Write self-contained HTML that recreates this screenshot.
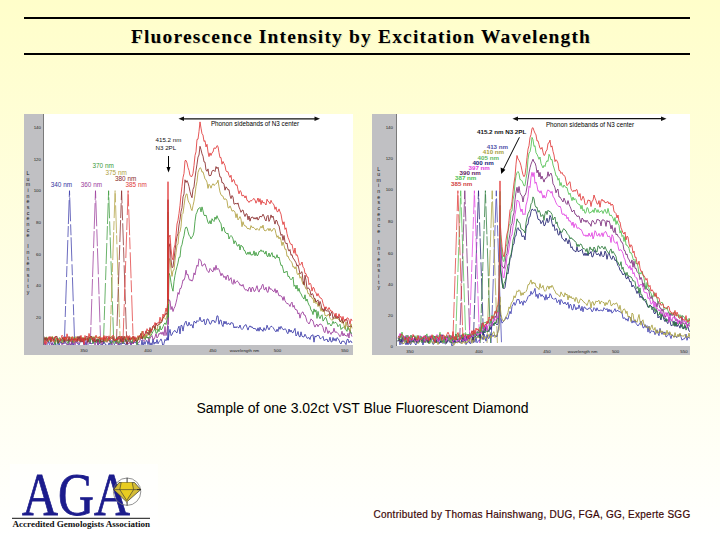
<!DOCTYPE html><html><head><meta charset="utf-8"><style>
html,body{margin:0;padding:0}
body{width:720px;height:540px;position:relative;overflow:hidden;background:linear-gradient(to bottom,#fffeca 0%,#ffffff 100%);font-family:"Liberation Sans",sans-serif}
.abs{position:absolute}
</style></head><body>
<div class="abs" style="left:24px;top:17px;width:666px;height:2px;background:#000"></div>
<div class="abs" style="left:24px;top:53px;width:666px;height:2px;background:#000"></div>
<div class="abs" style="left:0;top:26px;width:720px;text-align:center;font-family:'Liberation Serif',serif;font-weight:bold;font-size:18px;line-height:20px;color:#000;letter-spacing:1.1px;text-shadow:1px 1px 0 rgba(0,0,0,0.12)"><span style="display:inline-block;transform:scaleX(1.08);transform-origin:50% 50%;position:relative;left:1px;top:1px">Fluorescence Intensity by Excitation Wavelength</span></div>
<svg class="abs" style="left:24px;top:114px" width="329" height="241" viewBox="24 114 329 241">
<rect x="24" y="114" width="329" height="241" fill="#c0c0c3"/>
<rect x="44" y="114" width="309" height="231" fill="#ffffff"/>
<line x1="43.5" y1="114" x2="43.5" y2="345" stroke="#7a7a7a" stroke-width="1"/>
<clipPath id="c24"><rect x="44" y="114" width="309" height="231"/></clipPath><g clip-path="url(#c24)">
<path d="M64.3,344.0 L69.5,190.7 L74.7,344.0" fill="none" stroke="#3a3aa8" stroke-width="1" stroke-dasharray="24,3,11,2" opacity="0.75"/>
<path d="M90.3,344.0 L95.5,190.7 L100.7,344.0" fill="none" stroke="#9a3a9a" stroke-width="1" stroke-dasharray="17,2,26,3" opacity="0.75"/>
<path d="M103.4,344.0 L108.6,190.7 L113.8,344.0" fill="none" stroke="#3a9a3a" stroke-width="1" stroke-dasharray="21,3,14,2" opacity="0.75"/>
<path d="M109.9,344.0 L115.1,190.7 L120.3,344.0" fill="none" stroke="#b0a040" stroke-width="1" stroke-dasharray="28,2,9,3" opacity="0.75"/>
<path d="M116.4,344.0 L121.6,190.7 L126.8,344.0" fill="none" stroke="#8a2a2a" stroke-width="1" stroke-dasharray="15,3,22,2" opacity="0.75"/>
<path d="M122.9,344.0 L128.1,190.7 L133.3,344.0" fill="none" stroke="#e03a3a" stroke-width="1" stroke-dasharray="26,2,12,3" opacity="0.75"/>
<polyline points="44.0,343.9 45.0,343.9 46.0,345.5 47.0,344.4 48.0,343.5 49.0,341.7 50.0,349.5 51.0,345.8 52.0,342.6 53.0,344.6 54.0,344.7 55.0,340.9 56.0,346.7 57.0,344.8 58.0,340.0 59.0,346.4 60.0,342.5 61.0,342.1 62.0,342.6 63.0,344.0 64.0,341.1 65.0,342.3 66.0,343.4 67.0,344.5 68.0,345.8 69.0,343.8 70.0,344.1 71.0,345.3 72.0,341.1 73.0,346.4 74.0,342.8 75.0,341.9 76.0,341.2 77.0,343.1 78.0,344.4 79.0,345.3 80.0,342.4 81.0,340.0 82.0,342.2 83.0,340.5 84.0,344.0 85.0,345.9 86.0,341.6 87.0,346.2 88.0,344.6 89.0,343.3 90.0,342.7 91.0,344.0 92.0,343.3 93.0,343.0 94.0,342.3 95.0,340.0 96.0,340.3 97.0,340.7 98.0,346.7 99.0,343.1 100.0,343.4 101.0,344.9 102.0,344.7 103.0,344.4 104.0,341.0 105.0,344.2 106.0,344.4 107.0,345.6 108.0,345.5 109.0,342.9 110.0,344.9 111.0,340.3 112.0,345.2 113.0,346.7 114.0,344.5 115.0,344.0 116.0,341.3 117.0,340.5 118.0,341.4 119.0,346.8 120.0,343.1 121.0,344.7 122.0,342.9 123.0,343.8 124.0,342.5 125.0,344.3 126.0,344.1 127.0,345.9 128.0,340.5 129.0,338.4 130.0,341.7 131.0,345.1 132.0,341.8 133.0,343.3 134.0,341.7 135.0,342.2 136.0,343.1 137.0,343.0 138.0,344.5 139.0,345.2 140.0,345.1 141.0,346.4 142.0,340.0 143.0,347.0 144.0,341.7 145.0,344.4 146.0,341.2 147.0,340.4 148.0,344.6 149.0,340.6 150.0,345.5 151.0,342.8 152.0,345.4 153.0,338.8 154.0,344.3 155.0,342.0 156.0,343.5 157.0,339.5 158.0,343.8 159.0,341.8 160.0,340.6 161.0,338.9 162.0,341.7 163.0,346.9 164.0,343.5 165.0,339.4 166.0,340.8 167.0,337.6 167.8,340.2 168.0,325.9 168.2,340.2 169.0,333.7 170.0,329.4 171.0,335.6 172.0,334.8 173.0,332.2 174.0,331.1 175.0,330.4 176.0,332.2 177.0,332.9 178.0,328.5 179.0,326.2 180.0,333.9 181.0,325.3 182.0,325.6 183.0,331.1 184.0,325.4 185.0,322.7 186.0,321.1 187.0,325.4 188.0,326.0 189.0,322.2 190.0,325.3 191.0,325.2 192.0,324.6 193.0,328.1 194.0,321.3 195.0,321.8 196.0,323.2 197.0,320.5 198.0,321.6 199.0,320.5 200.0,317.2 201.0,321.2 202.0,321.3 203.0,321.3 204.0,319.2 205.0,324.7 206.0,324.2 207.0,319.1 208.0,318.9 209.0,321.3 210.0,324.2 211.0,323.7 212.0,320.4 213.0,321.0 214.0,320.5 215.0,322.8 216.0,321.2 217.0,315.8 218.0,316.1 219.0,324.2 220.0,320.3 221.0,320.0 222.0,324.8 223.0,326.6 224.0,321.1 225.0,324.0 226.0,321.3 227.0,324.6 228.0,323.2 229.0,323.4 230.0,324.9 231.0,322.5 232.0,323.1 233.0,323.2 234.0,328.0 235.0,326.6 236.0,328.0 237.0,326.5 238.0,327.6 239.0,327.8 240.0,325.0 241.0,328.4 242.0,329.6 243.0,328.5 244.0,326.1 245.0,325.4 246.0,324.5 247.0,327.5 248.0,330.1 249.0,327.0 250.0,325.8 251.0,327.4 252.0,326.6 253.0,328.3 254.0,328.6 255.0,328.5 256.0,329.1 257.0,331.1 258.0,327.8 259.0,331.2 260.0,327.2 261.0,330.0 262.0,329.6 263.0,331.4 264.0,327.7 265.0,330.4 266.0,329.7 267.0,325.2 268.0,327.9 269.0,329.9 270.0,327.6 271.0,326.2 272.0,326.5 273.0,327.5 274.0,329.1 275.0,330.8 276.0,331.9 277.0,329.2 278.0,331.5 279.0,326.8 280.0,329.3 281.0,326.3 282.0,328.0 283.0,329.6 284.0,329.6 285.0,328.7 286.0,329.5 287.0,332.8 288.0,333.7 289.0,329.0 290.0,332.1 291.0,330.0 292.0,332.4 293.0,332.8 294.0,330.4 295.0,328.4 296.0,336.0 297.0,334.6 298.0,331.5 299.0,336.3 300.0,337.0 301.0,331.8 302.0,336.2 303.0,336.9 304.0,336.9 305.0,334.2 306.0,336.1 307.0,338.3 308.0,338.1 309.0,337.4 310.0,339.5 311.0,335.8 312.0,335.5 313.0,334.7 314.0,342.2 315.0,335.9 316.0,337.1 317.0,335.3 318.0,335.6 319.0,335.6 320.0,338.7 321.0,338.6 322.0,337.6 323.0,336.3 324.0,340.7 325.0,339.8 326.0,339.7 327.0,339.0 328.0,342.0 329.0,340.8 330.0,337.2 331.0,341.8 332.0,341.9 333.0,337.5 334.0,340.8 335.0,338.5 336.0,341.2 337.0,337.6 338.0,338.5 339.0,340.1 340.0,342.9 341.0,344.0 342.0,341.0 343.0,341.4 344.0,341.1 345.0,342.9 346.0,344.6 347.0,339.6 348.0,339.1 349.0,342.8 350.0,341.0 351.0,341.0 352.0,343.0" fill="none" stroke="#3a3aa8" stroke-width="1" opacity="0.85"/>
<polyline points="44.0,341.6 45.0,344.8 46.0,341.9 47.0,339.7 48.0,342.8 49.0,339.1 50.0,339.1 51.0,344.3 52.0,345.2 53.0,342.9 54.0,337.7 55.0,342.2 56.0,339.8 57.0,338.7 58.0,341.5 59.0,342.0 60.0,341.9 61.0,341.6 62.0,345.3 63.0,344.2 64.0,340.6 65.0,339.3 66.0,343.7 67.0,344.2 68.0,345.0 69.0,338.5 70.0,344.7 71.0,345.2 72.0,339.0 73.0,343.8 74.0,339.1 75.0,345.0 76.0,339.3 77.0,337.0 78.0,343.9 79.0,342.3 80.0,339.8 81.0,339.4 82.0,339.3 83.0,339.9 84.0,345.1 85.0,340.6 86.0,339.9 87.0,344.3 88.0,339.2 89.0,339.9 90.0,343.7 91.0,339.4 92.0,339.1 93.0,340.1 94.0,341.0 95.0,345.0 96.0,342.4 97.0,339.7 98.0,344.7 99.0,340.2 100.0,343.5 101.0,339.8 102.0,344.5 103.0,341.4 104.0,338.7 105.0,340.1 106.0,340.2 107.0,342.5 108.0,339.7 109.0,339.0 110.0,342.3 111.0,342.7 112.0,344.7 113.0,338.6 114.0,341.2 115.0,339.7 116.0,342.4 117.0,340.9 118.0,345.2 119.0,343.2 120.0,337.5 121.0,338.6 122.0,343.3 123.0,338.6 124.0,341.8 125.0,340.7 126.0,339.0 127.0,343.5 128.0,343.5 129.0,343.9 130.0,340.8 131.0,344.5 132.0,341.1 133.0,344.0 134.0,342.3 135.0,342.0 136.0,338.5 137.0,344.6 138.0,342.7 139.0,342.7 140.0,340.5 141.0,337.9 142.0,337.3 143.0,340.1 144.0,341.4 145.0,340.6 146.0,336.6 147.0,338.0 148.0,337.1 149.0,341.6 150.0,338.0 151.0,336.9 152.0,335.6 153.0,339.3 154.0,339.4 155.0,337.0 156.0,333.6 157.0,338.0 158.0,336.7 159.0,333.4 160.0,334.2 161.0,332.2 162.0,334.5 163.0,331.8 164.0,335.7 165.0,326.5 166.0,335.6 167.0,331.6 167.8,324.6 168.0,281.4 168.2,324.6 169.0,299.8 170.0,300.6 171.0,309.6 172.0,306.5 173.0,311.5 174.0,308.4 175.0,306.5 176.0,302.8 177.0,298.5 178.0,292.5 179.0,294.4 180.0,288.5 181.0,288.4 182.0,284.6 183.0,279.9 184.0,280.2 185.0,277.1 186.0,270.2 187.0,274.9 188.0,274.4 189.0,279.0 190.0,280.6 191.0,279.7 192.0,281.2 193.0,279.1 194.0,272.9 195.0,274.9 196.0,269.0 197.0,265.1 198.0,266.4 199.0,258.8 200.0,259.8 201.0,260.7 202.0,266.1 203.0,265.7 204.0,264.0 205.0,263.9 206.0,267.2 207.0,270.2 208.0,271.7 209.0,272.5 210.0,268.4 211.0,269.6 212.0,271.2 213.0,271.8 214.0,267.4 215.0,270.3 216.0,265.3 217.0,269.7 218.0,268.3 219.0,269.6 220.0,272.3 221.0,275.8 222.0,273.3 223.0,275.0 224.0,277.6 225.0,276.2 226.0,279.7 227.0,275.6 228.0,275.3 229.0,280.6 230.0,279.0 231.0,277.7 232.0,283.3 233.0,284.4 234.0,279.5 235.0,283.5 236.0,281.9 237.0,280.8 238.0,281.6 239.0,283.0 240.0,285.4 241.0,284.7 242.0,286.2 243.0,284.4 244.0,287.8 245.0,289.7 246.0,290.1 247.0,289.7 248.0,291.3 249.0,287.7 250.0,287.5 251.0,292.0 252.0,287.5 253.0,287.6 254.0,291.4 255.0,291.1 256.0,288.4 257.0,285.7 258.0,290.2 259.0,292.1 260.0,288.9 261.0,289.0 262.0,285.2 263.0,284.3 264.0,289.5 265.0,289.7 266.0,287.2 267.0,291.7 268.0,292.4 269.0,286.6 270.0,289.4 271.0,288.5 272.0,289.9 273.0,291.1 274.0,291.7 275.0,288.7 276.0,293.1 277.0,290.0 278.0,292.8 279.0,295.9 280.0,295.5 281.0,296.0 282.0,296.8 283.0,300.4 284.0,296.5 285.0,300.8 286.0,302.3 287.0,303.8 288.0,303.4 289.0,304.7 290.0,306.5 291.0,303.5 292.0,302.1 293.0,307.2 294.0,305.3 295.0,309.1 296.0,309.9 297.0,309.9 298.0,314.0 299.0,312.8 300.0,318.2 301.0,314.0 302.0,312.4 303.0,311.9 304.0,315.0 305.0,315.0 306.0,317.9 307.0,321.6 308.0,322.7 309.0,324.0 310.0,321.8 311.0,318.9 312.0,320.2 313.0,320.8 314.0,324.9 315.0,327.1 316.0,324.8 317.0,324.2 318.0,326.7 319.0,324.7 320.0,324.2 321.0,324.1 322.0,325.4 323.0,327.5 324.0,331.8 325.0,332.6 326.0,326.9 327.0,329.7 328.0,333.6 329.0,330.8 330.0,332.4 331.0,334.4 332.0,332.1 333.0,332.5 334.0,328.2 335.0,332.3 336.0,331.9 337.0,332.3 338.0,333.4 339.0,334.9 340.0,336.7 341.0,335.1 342.0,331.2 343.0,336.0 344.0,333.3 345.0,335.7 346.0,335.2 347.0,336.5 348.0,333.3 349.0,338.0 350.0,329.7 351.0,334.0 352.0,336.6" fill="none" stroke="#9a3a9a" stroke-width="1" opacity="0.85"/>
<polyline points="44.0,340.3 45.0,341.6 46.0,337.2 47.0,339.0 48.0,341.8 49.0,340.9 50.0,338.1 51.0,338.2 52.0,337.5 53.0,337.6 54.0,339.4 55.0,344.7 56.0,337.5 57.0,340.6 58.0,343.8 59.0,337.9 60.0,338.0 61.0,341.3 62.0,342.9 63.0,338.3 64.0,339.8 65.0,341.2 66.0,339.1 67.0,342.0 68.0,343.7 69.0,339.5 70.0,341.8 71.0,337.9 72.0,339.6 73.0,342.6 74.0,337.3 75.0,340.0 76.0,338.6 77.0,339.7 78.0,337.8 79.0,338.3 80.0,337.4 81.0,339.4 82.0,337.5 83.0,338.5 84.0,340.3 85.0,340.4 86.0,338.2 87.0,339.6 88.0,342.2 89.0,337.1 90.0,342.3 91.0,337.3 92.0,337.4 93.0,343.8 94.0,340.5 95.0,339.3 96.0,342.8 97.0,338.7 98.0,340.3 99.0,338.9 100.0,343.2 101.0,339.1 102.0,339.0 103.0,340.6 104.0,341.9 105.0,339.0 106.0,341.7 107.0,338.0 108.0,340.0 109.0,340.1 110.0,340.9 111.0,343.4 112.0,342.3 113.0,341.1 114.0,342.5 115.0,339.5 116.0,342.1 117.0,337.2 118.0,343.2 119.0,343.2 120.0,340.7 121.0,339.7 122.0,339.5 123.0,343.5 124.0,340.8 125.0,337.9 126.0,341.9 127.0,338.8 128.0,339.3 129.0,338.1 130.0,339.1 131.0,342.0 132.0,343.1 133.0,336.8 134.0,339.5 135.0,340.9 136.0,337.8 137.0,344.9 138.0,338.4 139.0,337.1 140.0,337.0 141.0,338.6 142.0,335.9 143.0,338.5 144.0,335.7 145.0,339.4 146.0,334.8 147.0,338.0 148.0,337.0 149.0,338.6 150.0,336.0 151.0,335.7 152.0,333.5 153.0,331.5 154.0,330.3 155.0,328.5 156.0,333.0 157.0,333.2 158.0,328.9 159.0,331.7 160.0,325.8 161.0,330.0 162.0,328.9 163.0,326.6 164.0,324.1 165.0,322.9 166.0,324.6 167.0,319.2 167.8,317.3 168.0,240.4 168.2,317.3 169.0,273.2 170.0,275.6 171.0,282.4 172.0,287.8 173.0,291.2 174.0,281.6 175.0,275.3 176.0,270.5 177.0,266.7 178.0,262.9 179.0,257.3 180.0,257.2 181.0,247.0 182.0,244.7 183.0,239.3 184.0,235.8 185.0,229.4 186.0,227.0 187.0,227.6 188.0,231.7 189.0,235.1 190.0,236.5 191.0,238.9 192.0,237.1 193.0,235.7 194.0,231.9 195.0,221.3 196.0,214.3 197.0,212.2 198.0,209.0 199.0,208.5 200.0,207.3 201.0,211.9 202.0,206.9 203.0,210.9 204.0,215.2 205.0,215.8 206.0,215.0 207.0,218.8 208.0,222.7 209.0,223.6 210.0,220.6 211.0,224.0 212.0,218.7 213.0,220.5 214.0,221.5 215.0,217.0 216.0,219.4 217.0,215.7 218.0,218.7 219.0,219.6 220.0,222.4 221.0,223.3 222.0,231.2 223.0,227.5 224.0,227.5 225.0,232.2 226.0,232.7 227.0,234.0 228.0,233.2 229.0,239.0 230.0,236.7 231.0,235.5 232.0,236.7 233.0,238.9 234.0,243.8 235.0,240.7 236.0,242.1 237.0,245.7 238.0,246.1 239.0,244.2 240.0,250.0 241.0,245.1 242.0,246.6 243.0,246.9 244.0,250.4 245.0,250.7 246.0,253.9 247.0,254.5 248.0,252.0 249.0,254.4 250.0,251.8 251.0,255.2 252.0,254.6 253.0,254.9 254.0,250.9 255.0,255.8 256.0,252.3 257.0,255.7 258.0,255.2 259.0,251.5 260.0,251.7 261.0,249.8 262.0,251.7 263.0,250.6 264.0,252.4 265.0,254.1 266.0,251.1 267.0,256.1 268.0,256.7 269.0,253.0 270.0,256.8 271.0,254.5 272.0,252.6 273.0,257.1 274.0,255.9 275.0,258.4 276.0,258.0 277.0,254.7 278.0,258.0 279.0,257.0 280.0,261.6 281.0,265.5 282.0,265.1 283.0,268.8 284.0,273.0 285.0,271.8 286.0,272.2 287.0,271.1 288.0,276.6 289.0,276.2 290.0,278.6 291.0,279.8 292.0,278.8 293.0,277.0 294.0,286.3 295.0,285.1 296.0,289.0 297.0,285.1 298.0,291.2 299.0,288.3 300.0,292.7 301.0,293.5 302.0,296.2 303.0,297.7 304.0,299.1 305.0,294.8 306.0,301.1 307.0,299.0 308.0,302.6 309.0,305.1 310.0,306.3 311.0,310.3 312.0,311.0 313.0,314.6 314.0,308.9 315.0,312.1 316.0,309.9 317.0,318.4 318.0,311.4 319.0,316.6 320.0,318.7 321.0,315.8 322.0,314.8 323.0,321.1 324.0,319.9 325.0,317.6 326.0,317.6 327.0,321.0 328.0,324.5 329.0,323.1 330.0,324.2 331.0,326.0 332.0,324.3 333.0,321.3 334.0,323.5 335.0,322.3 336.0,322.5 337.0,323.9 338.0,326.7 339.0,325.4 340.0,324.3 341.0,329.5 342.0,328.1 343.0,327.8 344.0,326.6 345.0,325.9 346.0,330.0 347.0,331.4 348.0,326.3 349.0,330.1 350.0,330.1 351.0,333.3 352.0,333.1" fill="none" stroke="#3a9a3a" stroke-width="1" opacity="0.85"/>
<polyline points="44.0,337.9 45.0,340.8 46.0,337.4 47.0,337.1 48.0,341.1 49.0,339.8 50.0,338.1 51.0,341.8 52.0,336.2 53.0,337.1 54.0,341.6 55.0,341.8 56.0,342.6 57.0,337.9 58.0,339.5 59.0,340.0 60.0,338.6 61.0,338.3 62.0,341.7 63.0,342.8 64.0,339.9 65.0,337.1 66.0,339.2 67.0,337.5 68.0,337.9 69.0,340.3 70.0,337.0 71.0,337.7 72.0,337.5 73.0,336.6 74.0,342.6 75.0,341.0 76.0,336.4 77.0,341.6 78.0,340.5 79.0,339.0 80.0,342.2 81.0,337.5 82.0,338.7 83.0,337.1 84.0,340.2 85.0,337.6 86.0,340.1 87.0,338.6 88.0,338.5 89.0,337.3 90.0,336.9 91.0,336.6 92.0,339.9 93.0,336.4 94.0,338.5 95.0,336.2 96.0,337.0 97.0,338.0 98.0,336.7 99.0,338.6 100.0,336.2 101.0,339.5 102.0,339.7 103.0,340.7 104.0,336.4 105.0,342.3 106.0,337.9 107.0,341.9 108.0,340.1 109.0,337.8 110.0,337.5 111.0,336.4 112.0,336.7 113.0,340.8 114.0,341.4 115.0,339.4 116.0,338.4 117.0,339.1 118.0,342.0 119.0,341.7 120.0,338.2 121.0,336.4 122.0,338.6 123.0,342.1 124.0,336.4 125.0,337.0 126.0,338.3 127.0,339.8 128.0,336.2 129.0,342.0 130.0,339.2 131.0,338.2 132.0,337.1 133.0,340.0 134.0,338.8 135.0,338.1 136.0,339.2 137.0,340.9 138.0,335.6 139.0,340.0 140.0,336.2 141.0,335.7 142.0,331.1 143.0,337.6 144.0,337.1 145.0,338.5 146.0,334.1 147.0,336.4 148.0,332.2 149.0,330.4 150.0,335.6 151.0,329.8 152.0,330.0 153.0,326.6 154.0,327.8 155.0,326.4 156.0,329.7 157.0,329.8 158.0,325.6 159.0,324.6 160.0,324.3 161.0,322.4 162.0,320.1 163.0,317.7 164.0,317.3 165.0,318.7 166.0,319.3 167.0,315.1 167.8,304.0 168.0,212.0 168.2,304.0 169.0,258.7 170.0,259.3 171.0,269.2 172.0,276.4 173.0,270.5 174.0,269.9 175.0,260.5 176.0,252.8 177.0,245.1 178.0,244.1 179.0,232.9 180.0,231.6 181.0,226.7 182.0,214.4 183.0,213.3 184.0,205.8 185.0,198.3 186.0,194.4 187.0,193.9 188.0,200.2 189.0,202.6 190.0,204.0 191.0,208.7 192.0,210.6 193.0,205.6 194.0,201.2 195.0,194.5 196.0,186.4 197.0,181.5 198.0,172.4 199.0,169.7 200.0,167.7 201.0,168.4 202.0,172.1 203.0,171.8 204.0,175.2 205.0,178.9 206.0,179.9 207.0,182.2 208.0,188.4 209.0,184.2 210.0,185.6 211.0,188.2 212.0,185.2 213.0,183.7 214.0,185.5 215.0,184.7 216.0,183.5 217.0,183.0 218.0,180.2 219.0,186.8 220.0,192.0 221.0,194.9 222.0,195.8 223.0,196.2 224.0,199.4 225.0,198.9 226.0,199.0 227.0,200.8 228.0,207.7 229.0,208.0 230.0,205.9 231.0,208.1 232.0,211.2 233.0,210.6 234.0,210.7 235.0,212.1 236.0,217.7 237.0,213.7 238.0,219.9 239.0,218.5 240.0,216.6 241.0,219.1 242.0,226.7 243.0,221.7 244.0,225.2 245.0,226.0 246.0,226.1 247.0,228.2 248.0,228.9 249.0,228.3 250.0,229.6 251.0,225.6 252.0,227.6 253.0,227.1 254.0,227.7 255.0,228.9 256.0,230.1 257.0,228.3 258.0,229.4 259.0,230.4 260.0,228.1 261.0,226.2 262.0,228.1 263.0,225.1 264.0,230.0 265.0,230.9 266.0,230.5 267.0,229.7 268.0,228.3 269.0,230.8 270.0,228.4 271.0,230.8 272.0,231.2 273.0,229.1 274.0,228.3 275.0,229.2 276.0,233.8 277.0,237.4 278.0,235.7 279.0,238.9 280.0,237.1 281.0,240.4 282.0,245.6 283.0,242.0 284.0,245.2 285.0,249.4 286.0,249.1 287.0,256.3 288.0,256.0 289.0,258.7 290.0,260.3 291.0,261.6 292.0,262.5 293.0,267.2 294.0,266.5 295.0,268.9 296.0,266.7 297.0,273.2 298.0,274.8 299.0,273.0 300.0,278.2 301.0,276.6 302.0,281.1 303.0,284.2 304.0,281.7 305.0,286.5 306.0,289.1 307.0,288.9 308.0,293.7 309.0,293.4 310.0,296.8 311.0,295.9 312.0,298.4 313.0,298.2 314.0,303.0 315.0,298.6 316.0,303.6 317.0,302.4 318.0,306.6 319.0,303.9 320.0,306.8 321.0,311.2 322.0,308.8 323.0,311.9 324.0,309.7 325.0,315.6 326.0,315.5 327.0,316.3 328.0,314.3 329.0,314.8 330.0,318.2 331.0,319.4 332.0,320.4 333.0,318.8 334.0,319.0 335.0,317.4 336.0,318.8 337.0,317.8 338.0,319.0 339.0,319.6 340.0,321.2 341.0,321.0 342.0,323.2 343.0,320.4 344.0,325.5 345.0,329.2 346.0,321.9 347.0,326.6 348.0,326.6 349.0,328.2 350.0,331.4 351.0,323.9 352.0,328.4" fill="none" stroke="#b0a040" stroke-width="1" opacity="0.85"/>
<polyline points="44.0,336.5 45.0,340.2 46.0,337.6 47.0,340.7 48.0,337.8 49.0,338.4 50.0,336.5 51.0,341.9 52.0,337.5 53.0,340.0 54.0,339.5 55.0,336.8 56.0,336.6 57.0,336.3 58.0,342.4 59.0,342.5 60.0,339.9 61.0,340.4 62.0,339.7 63.0,337.0 64.0,341.7 65.0,337.0 66.0,337.2 67.0,339.1 68.0,341.3 69.0,336.4 70.0,340.8 71.0,339.3 72.0,339.0 73.0,339.4 74.0,339.0 75.0,339.8 76.0,339.0 77.0,341.6 78.0,336.2 79.0,340.5 80.0,335.9 81.0,342.1 82.0,338.1 83.0,342.1 84.0,337.8 85.0,340.0 86.0,337.5 87.0,336.0 88.0,342.4 89.0,337.6 90.0,338.2 91.0,336.0 92.0,337.1 93.0,341.7 94.0,337.4 95.0,342.0 96.0,340.9 97.0,339.5 98.0,342.1 99.0,339.2 100.0,338.2 101.0,342.3 102.0,341.0 103.0,341.9 104.0,337.4 105.0,338.9 106.0,337.5 107.0,337.1 108.0,336.7 109.0,338.8 110.0,338.3 111.0,337.5 112.0,338.6 113.0,337.2 114.0,340.7 115.0,340.3 116.0,340.1 117.0,338.1 118.0,340.2 119.0,336.0 120.0,337.5 121.0,342.1 122.0,336.1 123.0,342.1 124.0,336.4 125.0,338.6 126.0,341.7 127.0,344.4 128.0,341.1 129.0,336.6 130.0,340.1 131.0,338.4 132.0,338.6 133.0,337.0 134.0,336.5 135.0,339.8 136.0,341.2 137.0,341.0 138.0,340.2 139.0,336.6 140.0,335.9 141.0,333.2 142.0,339.0 143.0,336.7 144.0,335.0 145.0,333.9 146.0,330.8 147.0,333.7 148.0,332.1 149.0,335.2 150.0,327.5 151.0,332.7 152.0,328.6 153.0,325.9 154.0,325.7 155.0,329.1 156.0,323.0 157.0,325.6 158.0,325.1 159.0,324.1 160.0,321.6 161.0,322.9 162.0,321.6 163.0,317.9 164.0,316.4 165.0,315.5 166.0,313.1 167.0,314.5 167.8,300.2 168.0,199.7 168.2,300.2 169.0,247.2 170.0,243.7 171.0,259.8 172.0,267.7 173.0,266.9 174.0,259.0 175.0,250.6 176.0,243.0 177.0,236.6 178.0,233.5 179.0,225.0 180.0,219.4 181.0,211.7 182.0,207.7 183.0,196.9 184.0,193.9 185.0,179.8 186.0,182.5 187.0,180.6 188.0,182.9 189.0,186.5 190.0,191.5 191.0,195.2 192.0,197.7 193.0,189.3 194.0,186.9 195.0,177.8 196.0,170.7 197.0,164.2 198.0,157.1 199.0,155.0 200.0,146.3 201.0,149.6 202.0,153.8 203.0,156.2 204.0,161.9 205.0,162.1 206.0,170.0 207.0,171.3 208.0,168.9 209.0,175.5 210.0,175.7 211.0,175.3 212.0,171.1 213.0,170.4 214.0,170.4 215.0,171.6 216.0,166.6 217.0,168.6 218.0,167.2 219.0,172.4 220.0,177.1 221.0,177.1 222.0,182.8 223.0,182.7 224.0,184.2 225.0,190.2 226.0,186.8 227.0,188.0 228.0,189.9 229.0,189.7 230.0,195.6 231.0,198.6 232.0,195.5 233.0,197.0 234.0,204.1 235.0,204.0 236.0,203.1 237.0,204.2 238.0,202.9 239.0,207.1 240.0,209.4 241.0,212.3 242.0,210.4 243.0,210.0 244.0,214.0 245.0,216.5 246.0,213.7 247.0,214.0 248.0,219.8 249.0,216.0 250.0,221.2 251.0,217.7 252.0,217.2 253.0,217.1 254.0,219.1 255.0,217.6 256.0,219.2 257.0,217.1 258.0,220.1 259.0,218.4 260.0,216.0 261.0,216.9 262.0,216.5 263.0,214.2 264.0,216.2 265.0,219.3 266.0,221.0 267.0,216.3 268.0,215.3 269.0,221.4 270.0,219.3 271.0,214.9 272.0,217.6 273.0,216.0 274.0,220.3 275.0,224.1 276.0,220.1 277.0,220.9 278.0,224.9 279.0,225.7 280.0,231.1 281.0,235.4 282.0,234.2 283.0,240.3 284.0,235.5 285.0,242.1 286.0,243.8 287.0,243.0 288.0,248.9 289.0,251.1 290.0,249.5 291.0,255.3 292.0,254.6 293.0,258.3 294.0,259.1 295.0,261.0 296.0,262.7 297.0,266.2 298.0,264.8 299.0,269.2 300.0,273.9 301.0,272.5 302.0,271.7 303.0,280.4 304.0,285.1 305.0,275.2 306.0,280.2 307.0,288.5 308.0,287.9 309.0,288.4 310.0,290.5 311.0,295.3 312.0,293.6 313.0,294.3 314.0,298.3 315.0,298.7 316.0,302.0 317.0,300.9 318.0,299.9 319.0,305.5 320.0,301.4 321.0,304.5 322.0,309.6 323.0,308.7 324.0,311.4 325.0,307.4 326.0,311.0 327.0,310.6 328.0,311.3 329.0,310.7 330.0,316.0 331.0,312.7 332.0,312.1 333.0,318.6 334.0,317.0 335.0,315.1 336.0,318.4 337.0,316.1 338.0,318.3 339.0,316.7 340.0,321.8 341.0,321.1 342.0,318.9 343.0,323.2 344.0,321.8 345.0,319.2 346.0,320.1 347.0,319.6 348.0,325.3 349.0,326.6 350.0,326.1 351.0,326.0 352.0,326.7" fill="none" stroke="#8a2a2a" stroke-width="1" opacity="0.85"/>
<polyline points="44.0,344.2 45.0,340.1 46.0,344.5 47.0,341.1 48.0,340.9 49.0,336.7 50.0,339.9 51.0,336.9 52.0,341.0 53.0,340.5 54.0,341.4 55.0,336.7 56.0,337.5 57.0,339.0 58.0,339.0 59.0,339.5 60.0,341.0 61.0,338.5 62.0,335.2 63.0,336.3 64.0,339.8 65.0,337.1 66.0,341.1 67.0,333.8 68.0,338.3 69.0,338.9 70.0,338.5 71.0,341.6 72.0,336.7 73.0,340.7 74.0,341.3 75.0,337.8 76.0,341.3 77.0,338.3 78.0,338.5 79.0,340.8 80.0,340.2 81.0,335.4 82.0,341.5 83.0,338.5 84.0,344.3 85.0,335.5 86.0,339.0 87.0,340.4 88.0,339.8 89.0,333.4 90.0,337.4 91.0,337.7 92.0,339.3 93.0,339.2 94.0,340.7 95.0,341.2 96.0,335.2 97.0,337.5 98.0,338.6 99.0,336.8 100.0,337.4 101.0,339.8 102.0,337.3 103.0,339.9 104.0,335.5 105.0,341.0 106.0,335.9 107.0,339.0 108.0,341.2 109.0,335.8 110.0,340.1 111.0,338.4 112.0,337.8 113.0,335.1 114.0,336.2 115.0,340.8 116.0,339.1 117.0,340.2 118.0,336.7 119.0,338.7 120.0,338.7 121.0,336.2 122.0,340.4 123.0,341.0 124.0,339.6 125.0,337.0 126.0,337.0 127.0,335.5 128.0,339.9 129.0,335.8 130.0,336.3 131.0,340.1 132.0,338.2 133.0,335.9 134.0,342.0 135.0,336.7 136.0,339.6 137.0,337.3 138.0,336.5 139.0,336.2 140.0,335.6 141.0,338.4 142.0,333.1 143.0,331.0 144.0,336.4 145.0,334.2 146.0,333.2 147.0,328.7 148.0,331.0 149.0,329.8 150.0,328.9 151.0,330.3 152.0,330.6 153.0,326.4 154.0,326.0 155.0,322.5 156.0,325.2 157.0,323.5 158.0,322.7 159.0,322.9 160.0,317.2 161.0,321.2 162.0,319.9 163.0,314.0 164.0,316.8 165.0,313.3 166.0,308.0 167.0,311.6 167.8,299.2 168.0,181.7 168.2,299.2 169.0,237.4 170.0,235.1 171.0,248.8 172.0,257.4 173.0,259.9 174.0,248.2 175.0,244.7 176.0,235.1 177.0,224.0 178.0,220.2 179.0,213.5 180.0,205.4 181.0,194.7 182.0,186.3 183.0,177.6 184.0,173.4 185.0,160.7 186.0,160.4 187.0,162.9 188.0,167.6 189.0,170.4 190.0,175.6 191.0,176.4 192.0,176.4 193.0,173.4 194.0,165.4 195.0,155.5 196.0,151.8 197.0,139.4 198.0,139.2 199.0,131.4 200.0,121.9 201.0,128.1 202.0,133.7 203.0,135.0 204.0,141.5 205.0,140.6 206.0,146.9 207.0,144.3 208.0,151.9 209.0,156.6 210.0,152.9 211.0,155.5 212.0,152.8 213.0,152.0 214.0,147.9 215.0,148.3 216.0,148.2 217.0,145.6 218.0,146.4 219.0,152.6 220.0,157.7 221.0,157.5 222.0,164.2 223.0,161.5 224.0,163.5 225.0,165.7 226.0,170.9 227.0,171.8 228.0,171.7 229.0,175.4 230.0,177.4 231.0,175.2 232.0,182.1 233.0,179.8 234.0,179.8 235.0,183.5 236.0,185.4 237.0,184.7 238.0,189.9 239.0,193.8 240.0,190.6 241.0,191.5 242.0,196.1 243.0,195.2 244.0,195.6 245.0,198.0 246.0,195.8 247.0,200.4 248.0,200.8 249.0,202.5 250.0,200.8 251.0,200.9 252.0,200.5 253.0,199.2 254.0,198.4 255.0,200.0 256.0,203.2 257.0,200.9 258.0,198.0 259.0,202.1 260.0,198.7 261.0,204.6 262.0,200.3 263.0,203.1 264.0,202.2 265.0,203.5 266.0,205.0 267.0,199.2 268.0,201.3 269.0,201.9 270.0,203.8 271.0,200.3 272.0,202.6 273.0,203.6 274.0,205.0 275.0,209.4 276.0,206.9 277.0,211.6 278.0,211.7 279.0,208.9 280.0,211.8 281.0,214.2 282.0,220.0 283.0,224.6 284.0,221.8 285.0,229.4 286.0,227.8 287.0,233.7 288.0,237.6 289.0,239.9 290.0,243.0 291.0,244.6 292.0,244.2 293.0,249.4 294.0,253.3 295.0,248.0 296.0,255.4 297.0,254.6 298.0,257.5 299.0,262.7 300.0,265.3 301.0,264.2 302.0,262.0 303.0,267.1 304.0,268.2 305.0,273.5 306.0,273.6 307.0,277.0 308.0,277.0 309.0,284.7 310.0,283.1 311.0,284.7 312.0,291.1 313.0,287.4 314.0,287.9 315.0,291.8 316.0,292.8 317.0,296.1 318.0,293.5 319.0,296.0 320.0,297.9 321.0,298.0 322.0,299.3 323.0,303.4 324.0,306.4 325.0,308.8 326.0,306.7 327.0,308.8 328.0,309.9 329.0,307.5 330.0,309.6 331.0,311.5 332.0,310.8 333.0,312.6 334.0,313.6 335.0,316.0 336.0,313.1 337.0,317.4 338.0,317.7 339.0,313.8 340.0,317.2 341.0,316.4 342.0,320.1 343.0,316.4 344.0,320.5 345.0,321.1 346.0,320.5 347.0,317.9 348.0,318.0 349.0,319.9 350.0,324.3 351.0,318.9 352.0,320.8" fill="none" stroke="#e03a3a" stroke-width="1" opacity="0.85"/>
<line x1="168.5" y1="156" x2="168.5" y2="170" stroke="#000" stroke-width="1"/><path d="M166.5,167 L170.5,167 L168.5,172.5 Z" fill="#000"/>
<line x1="182" y1="118.8" x2="316" y2="118.8" stroke="#111" stroke-width="1.2"/><path d="M178.5,118.8 L184,116.5 L184,121.1 Z" fill="#111"/><path d="M320,118.8 L314.5,116.5 L314.5,121.1 Z" fill="#111"/>
</g>
<text x="41" y="129.2" font-size="4.4" text-anchor="end" fill="#222" font-family="Liberation Sans">140</text>
<text x="41" y="160.5" font-size="4.4" text-anchor="end" fill="#222" font-family="Liberation Sans">120</text>
<text x="41" y="192.2" font-size="4.4" text-anchor="end" fill="#222" font-family="Liberation Sans">100</text>
<text x="41" y="224.1" font-size="4.4" text-anchor="end" fill="#222" font-family="Liberation Sans">80</text>
<text x="41" y="255.5" font-size="4.4" text-anchor="end" fill="#222" font-family="Liberation Sans">60</text>
<text x="41" y="287.0" font-size="4.4" text-anchor="end" fill="#222" font-family="Liberation Sans">40</text>
<text x="41" y="318.5" font-size="4.4" text-anchor="end" fill="#222" font-family="Liberation Sans">20</text>
<text x="84.0" y="352" font-size="4.4" text-anchor="middle" fill="#222" font-family="Liberation Sans">350</text>
<text x="148.0" y="352" font-size="4.4" text-anchor="middle" fill="#222" font-family="Liberation Sans">400</text>
<text x="212.8" y="352" font-size="4.4" text-anchor="middle" fill="#222" font-family="Liberation Sans">450</text>
<text x="277.5" y="352" font-size="4.4" text-anchor="middle" fill="#222" font-family="Liberation Sans">500</text>
<text x="344.8" y="352" font-size="4.4" text-anchor="middle" fill="#222" font-family="Liberation Sans">550</text>
<text x="244.5" y="352" font-size="4.4" text-anchor="middle" fill="#222" font-family="Liberation Sans">wavelength nm</text>
<text x="28" y="175.0" font-size="5.2" text-anchor="middle" fill="#111" font-family="Liberation Sans">L</text>
<text x="28" y="180.7" font-size="5.2" text-anchor="middle" fill="#111" font-family="Liberation Sans">u</text>
<text x="28" y="186.3" font-size="5.2" text-anchor="middle" fill="#111" font-family="Liberation Sans">m</text>
<text x="28" y="191.9" font-size="5.2" text-anchor="middle" fill="#111" font-family="Liberation Sans">i</text>
<text x="28" y="197.6" font-size="5.2" text-anchor="middle" fill="#111" font-family="Liberation Sans">n</text>
<text x="28" y="203.2" font-size="5.2" text-anchor="middle" fill="#111" font-family="Liberation Sans">e</text>
<text x="28" y="208.9" font-size="5.2" text-anchor="middle" fill="#111" font-family="Liberation Sans">s</text>
<text x="28" y="214.6" font-size="5.2" text-anchor="middle" fill="#111" font-family="Liberation Sans">c</text>
<text x="28" y="220.2" font-size="5.2" text-anchor="middle" fill="#111" font-family="Liberation Sans">e</text>
<text x="28" y="225.8" font-size="5.2" text-anchor="middle" fill="#111" font-family="Liberation Sans">n</text>
<text x="28" y="231.5" font-size="5.2" text-anchor="middle" fill="#111" font-family="Liberation Sans">c</text>
<text x="28" y="237.2" font-size="5.2" text-anchor="middle" fill="#111" font-family="Liberation Sans">e</text>
<text x="28" y="248.4" font-size="5.2" text-anchor="middle" fill="#111" font-family="Liberation Sans">I</text>
<text x="28" y="254.1" font-size="5.2" text-anchor="middle" fill="#111" font-family="Liberation Sans">n</text>
<text x="28" y="259.8" font-size="5.2" text-anchor="middle" fill="#111" font-family="Liberation Sans">t</text>
<text x="28" y="265.4" font-size="5.2" text-anchor="middle" fill="#111" font-family="Liberation Sans">e</text>
<text x="28" y="271.1" font-size="5.2" text-anchor="middle" fill="#111" font-family="Liberation Sans">n</text>
<text x="28" y="276.7" font-size="5.2" text-anchor="middle" fill="#111" font-family="Liberation Sans">s</text>
<text x="28" y="282.4" font-size="5.2" text-anchor="middle" fill="#111" font-family="Liberation Sans">i</text>
<text x="28" y="288.0" font-size="5.2" text-anchor="middle" fill="#111" font-family="Liberation Sans">t</text>
<text x="28" y="293.6" font-size="5.2" text-anchor="middle" fill="#111" font-family="Liberation Sans">y</text>
<text x="50.7" y="186.7" font-size="6.4" fill="#3434a0" font-family="Liberation Sans">340 nm</text>
<text x="80.7" y="187.3" font-size="6.4" fill="#9a3a9a" font-family="Liberation Sans">360 nm</text>
<text x="92.5" y="167.8" font-size="6.4" fill="#3a9a3a" font-family="Liberation Sans">370 nm</text>
<text x="105.5" y="175.3" font-size="6.4" fill="#b0a040" font-family="Liberation Sans">375 nm</text>
<text x="115.0" y="181.3" font-size="6.4" fill="#8a2a2a" font-family="Liberation Sans">380 nm</text>
<text x="125.5" y="187.3" font-size="6.4" fill="#e03a3a" font-family="Liberation Sans">385 nm</text>
<text x="155.5" y="141.5" font-size="6.2" fill="#111" font-family="Liberation Sans">415.2 nm</text>
<text x="155.5" y="150" font-size="6.2" fill="#111" font-family="Liberation Sans">N3 2PL</text>
<text x="255" y="126" font-size="6.3" text-anchor="middle" fill="#000" font-family="Liberation Sans">Phonon sidebands of N3 center</text>
</svg>
<svg class="abs" style="left:372px;top:114px" width="318" height="241" viewBox="372 114 318 241">
<rect x="372" y="114" width="318" height="241" fill="#c0c0c3"/>
<rect x="397" y="114" width="293" height="232" fill="#ffffff"/>
<line x1="396.5" y1="114" x2="396.5" y2="346" stroke="#7a7a7a" stroke-width="1"/>
<clipPath id="c372"><rect x="397" y="114" width="293" height="232"/></clipPath><g clip-path="url(#c372)">
<path d="M491.1,343.0 L496.3,190.7 L501.5,343.0" fill="none" stroke="#4040b0" stroke-width="1" stroke-dasharray="24,3,11,2" opacity="0.75"/>
<path d="M487.0,343.0 L492.2,190.7 L497.4,343.0" fill="none" stroke="#a8a040" stroke-width="1" stroke-dasharray="17,2,26,3" opacity="0.75"/>
<path d="M473.3,343.0 L478.5,190.7 L483.7,343.0" fill="none" stroke="#202070" stroke-width="1" stroke-dasharray="21,3,14,2" opacity="0.75"/>
<path d="M480.2,343.0 L485.4,190.7 L490.6,343.0" fill="none" stroke="#2a7a3a" stroke-width="1" stroke-dasharray="28,2,9,3" opacity="0.75"/>
<path d="M459.6,343.0 L464.8,190.7 L470.0,343.0" fill="none" stroke="#7a2a7a" stroke-width="1" stroke-dasharray="15,3,22,2" opacity="0.75"/>
<path d="M469.2,343.0 L474.4,190.7 L479.6,343.0" fill="none" stroke="#e040e0" stroke-width="1" stroke-dasharray="26,2,12,3" opacity="0.75"/>
<path d="M455.5,343.0 L460.7,190.7 L465.9,343.0" fill="none" stroke="#50c050" stroke-width="1" stroke-dasharray="19,3,25,2" opacity="0.75"/>
<path d="M452.8,343.0 L457.9,190.7 L463.1,343.0" fill="none" stroke="#e03a3a" stroke-width="1" stroke-dasharray="23,2,16,3" opacity="0.75"/>
<polyline points="398.0,341.4 399.0,338.5 400.0,344.9 401.0,339.2 402.0,344.3 403.0,338.5 404.0,339.2 405.0,342.5 406.0,344.9 407.0,342.4 408.0,344.9 409.0,341.8 410.0,344.3 411.0,344.3 412.0,340.5 413.0,339.9 414.0,339.4 415.0,343.9 416.0,345.0 417.0,339.7 418.0,338.8 419.0,342.5 420.0,338.9 421.0,339.1 422.0,341.4 423.0,345.0 424.0,340.6 425.0,340.3 426.0,342.2 427.0,336.4 428.0,339.3 429.0,343.7 430.0,339.0 431.0,337.9 432.0,341.6 433.0,344.5 434.0,343.7 435.0,339.4 436.0,342.9 437.0,340.6 438.0,338.7 439.0,343.8 440.0,341.2 441.0,341.6 442.0,340.0 443.0,343.5 444.0,338.6 445.0,344.1 446.0,343.7 447.0,341.0 448.0,341.2 449.0,338.6 450.0,342.5 451.0,341.5 452.0,347.0 453.0,344.6 454.0,338.6 455.0,343.2 456.0,342.3 457.0,342.6 458.0,338.4 459.0,339.4 460.0,342.5 461.0,343.1 462.0,340.4 463.0,341.4 464.0,337.5 465.0,338.6 466.0,344.6 467.0,342.9 468.0,341.9 469.0,341.6 470.0,343.6 471.0,343.2 472.0,338.7 473.0,341.6 474.0,339.2 475.0,342.3 476.0,336.9 477.0,342.8 478.0,341.5 479.0,340.2 480.0,340.1 481.0,337.4 482.0,336.5 483.0,339.7 484.0,334.0 485.0,337.9 486.0,341.2 487.0,334.7 488.0,338.0 489.0,338.5 490.0,335.0 491.0,333.9 492.0,335.1 493.0,336.7 494.0,334.8 495.0,335.6 496.0,336.1 497.0,336.7 498.0,331.1 499.0,324.9 499.8,312.0 500.0,304.9 500.2,312.0 501.0,318.7 502.0,323.1 503.0,322.2 504.0,320.7 505.0,319.6 506.0,316.9 507.0,319.0 508.0,318.9 509.0,314.6 510.0,311.3 511.0,313.8 512.0,306.4 513.0,304.4 514.0,302.4 515.0,305.4 516.0,303.2 517.0,299.4 518.0,299.9 519.0,299.4 520.0,303.9 521.0,301.8 522.0,301.5 523.0,305.3 524.0,300.7 525.0,302.6 526.0,301.7 527.0,299.5 528.0,296.7 529.0,295.4 530.0,295.9 531.0,291.3 532.0,294.4 533.0,293.0 534.0,291.3 535.0,288.4 536.0,296.6 537.0,294.2 538.0,298.4 539.0,293.6 540.0,293.6 541.0,296.5 542.0,294.5 543.0,296.4 544.0,296.7 545.0,300.2 546.0,294.6 547.0,299.6 548.0,297.0 549.0,298.0 550.0,293.6 551.0,295.0 552.0,298.3 553.0,298.5 554.0,299.5 555.0,298.3 556.0,298.5 557.0,302.7 558.0,301.8 559.0,299.8 560.0,304.7 561.0,299.4 562.0,300.9 563.0,303.2 564.0,303.9 565.0,302.0 566.0,304.3 567.0,304.6 568.0,302.3 569.0,308.4 570.0,304.3 571.0,304.8 572.0,309.8 573.0,309.7 574.0,304.2 575.0,306.7 576.0,309.9 577.0,307.5 578.0,308.9 579.0,304.9 580.0,308.3 581.0,310.8 582.0,306.3 583.0,311.8 584.0,307.0 585.0,307.2 586.0,309.1 587.0,309.1 588.0,309.5 589.0,307.8 590.0,308.4 591.0,309.1 592.0,311.8 593.0,310.9 594.0,307.6 595.0,308.6 596.0,311.1 597.0,307.8 598.0,310.4 599.0,310.8 600.0,310.4 601.0,309.9 602.0,310.7 603.0,311.0 604.0,307.7 605.0,308.9 606.0,309.9 607.0,308.5 608.0,312.0 609.0,309.1 610.0,311.7 611.0,309.8 612.0,313.2 613.0,312.0 614.0,310.5 615.0,308.7 616.0,311.8 617.0,310.4 618.0,310.6 619.0,311.5 620.0,311.7 621.0,312.6 622.0,312.7 623.0,318.5 624.0,317.8 625.0,318.0 626.0,320.2 627.0,318.8 628.0,321.2 629.0,316.5 630.0,317.5 631.0,318.2 632.0,323.1 633.0,320.6 634.0,322.6 635.0,319.7 636.0,323.3 637.0,324.8 638.0,326.0 639.0,324.2 640.0,323.4 641.0,321.1 642.0,323.2 643.0,327.8 644.0,327.7 645.0,324.5 646.0,327.6 647.0,325.6 648.0,332.1 649.0,326.3 650.0,333.2 651.0,331.5 652.0,330.6 653.0,331.8 654.0,331.3 655.0,334.7 656.0,332.7 657.0,329.7 658.0,333.3 659.0,335.7 660.0,328.3 661.0,332.2 662.0,334.4 663.0,331.8 664.0,333.3 665.0,331.9 666.0,337.0 667.0,336.4 668.0,335.1 669.0,332.5 670.0,335.7 671.0,338.6 672.0,334.7 673.0,336.2 674.0,337.0 675.0,335.9 676.0,336.9 677.0,337.6 678.0,336.3 679.0,335.8 680.0,333.8 681.0,336.9 682.0,340.2 683.0,339.0 684.0,339.0 685.0,338.3 686.0,334.1 687.0,340.3 688.0,337.0 689.0,337.7 690.0,338.2" fill="none" stroke="#4040b0" stroke-width="1" opacity="0.85"/>
<polyline points="398.0,340.6 399.0,339.2 400.0,342.0 401.0,341.8 402.0,343.0 403.0,343.3 404.0,343.7 405.0,339.1 406.0,343.0 407.0,342.5 408.0,338.4 409.0,338.3 410.0,343.8 411.0,343.0 412.0,338.9 413.0,338.9 414.0,342.7 415.0,338.4 416.0,342.3 417.0,339.3 418.0,343.8 419.0,339.0 420.0,340.8 421.0,341.4 422.0,338.2 423.0,341.2 424.0,340.9 425.0,341.7 426.0,342.5 427.0,337.0 428.0,338.3 429.0,344.0 430.0,338.8 431.0,338.9 432.0,342.5 433.0,342.2 434.0,343.8 435.0,339.7 436.0,343.0 437.0,340.8 438.0,344.6 439.0,339.5 440.0,339.9 441.0,340.3 442.0,340.6 443.0,343.1 444.0,339.5 445.0,338.2 446.0,343.5 447.0,339.7 448.0,339.1 449.0,339.6 450.0,338.8 451.0,342.1 452.0,341.8 453.0,344.6 454.0,345.4 455.0,342.0 456.0,342.4 457.0,342.5 458.0,343.0 459.0,338.5 460.0,342.0 461.0,342.5 462.0,344.0 463.0,338.8 464.0,341.9 465.0,343.5 466.0,341.6 467.0,342.9 468.0,339.1 469.0,341.4 470.0,338.5 471.0,337.6 472.0,343.3 473.0,337.1 474.0,341.5 475.0,336.6 476.0,337.6 477.0,338.3 478.0,337.1 479.0,337.2 480.0,338.9 481.0,339.6 482.0,335.1 483.0,335.2 484.0,339.6 485.0,336.7 486.0,337.4 487.0,338.2 488.0,337.1 489.0,334.3 490.0,336.0 491.0,337.9 492.0,335.1 493.0,332.5 494.0,331.7 495.0,337.6 496.0,335.5 497.0,335.2 498.0,331.8 499.0,329.9 499.8,306.5 500.0,296.8 500.2,306.5 501.0,314.6 502.0,318.8 503.0,320.9 504.0,321.1 505.0,318.8 506.0,316.7 507.0,315.2 508.0,312.4 509.0,306.9 510.0,308.7 511.0,304.1 512.0,301.8 513.0,300.9 514.0,295.8 515.0,297.9 516.0,295.0 517.0,290.8 518.0,291.8 519.0,289.8 520.0,290.8 521.0,295.6 522.0,292.7 523.0,295.1 524.0,292.2 525.0,292.6 526.0,291.6 527.0,289.5 528.0,284.6 529.0,284.7 530.0,282.2 531.0,279.9 532.0,284.2 533.0,282.0 534.0,283.7 535.0,282.8 536.0,286.8 537.0,287.2 538.0,288.0 539.0,289.6 540.0,283.6 541.0,287.9 542.0,287.6 543.0,285.4 544.0,289.9 545.0,291.4 546.0,290.4 547.0,286.6 548.0,286.0 549.0,289.2 550.0,286.0 551.0,287.6 552.0,285.3 553.0,287.0 554.0,289.7 555.0,291.0 556.0,293.7 557.0,294.0 558.0,294.4 559.0,295.9 560.0,296.6 561.0,291.9 562.0,294.2 563.0,295.1 564.0,297.0 565.0,292.8 566.0,295.1 567.0,294.0 568.0,299.9 569.0,295.2 570.0,298.0 571.0,296.3 572.0,298.7 573.0,298.0 574.0,298.4 575.0,301.5 576.0,297.3 577.0,298.9 578.0,303.0 579.0,303.0 580.0,299.4 581.0,298.8 582.0,300.1 583.0,300.9 584.0,302.5 585.0,302.8 586.0,303.8 587.0,305.5 588.0,302.6 589.0,299.8 590.0,301.8 591.0,308.0 592.0,302.0 593.0,301.7 594.0,305.4 595.0,303.7 596.0,300.9 597.0,301.9 598.0,301.1 599.0,300.3 600.0,304.1 601.0,301.4 602.0,301.4 603.0,302.5 604.0,302.5 605.0,305.8 606.0,302.4 607.0,304.7 608.0,302.8 609.0,300.2 610.0,300.2 611.0,305.7 612.0,305.5 613.0,303.6 614.0,303.8 615.0,304.4 616.0,302.9 617.0,303.3 618.0,306.6 619.0,309.4 620.0,305.3 621.0,310.9 622.0,313.4 623.0,310.1 624.0,308.8 625.0,309.6 626.0,313.5 627.0,311.2 628.0,316.9 629.0,316.3 630.0,317.0 631.0,321.6 632.0,313.0 633.0,314.0 634.0,320.4 635.0,320.6 636.0,320.9 637.0,322.3 638.0,318.2 639.0,314.5 640.0,321.0 641.0,325.2 642.0,321.3 643.0,319.8 644.0,325.0 645.0,326.0 646.0,325.8 647.0,328.0 648.0,327.9 649.0,326.4 650.0,330.2 651.0,327.2 652.0,324.9 653.0,329.4 654.0,330.3 655.0,327.5 656.0,333.4 657.0,330.5 658.0,333.2 659.0,331.3 660.0,329.4 661.0,332.8 662.0,330.9 663.0,332.0 664.0,335.0 665.0,332.9 666.0,335.2 667.0,330.2 668.0,334.2 669.0,332.3 670.0,331.8 671.0,335.3 672.0,334.5 673.0,335.5 674.0,337.5 675.0,332.6 676.0,336.4 677.0,337.0 678.0,334.1 679.0,336.8 680.0,333.2 681.0,335.9 682.0,335.6 683.0,336.4 684.0,335.7 685.0,334.4 686.0,337.7 687.0,336.4 688.0,337.3 689.0,333.1 690.0,337.9" fill="none" stroke="#a8a040" stroke-width="1" opacity="0.85"/>
<polyline points="398.0,341.3 399.0,338.0 400.0,341.2 401.0,342.2 402.0,338.6 403.0,337.7 404.0,336.4 405.0,340.6 406.0,337.7 407.0,343.4 408.0,341.7 409.0,338.5 410.0,342.7 411.0,336.8 412.0,341.9 413.0,341.7 414.0,339.8 415.0,338.7 416.0,341.8 417.0,342.0 418.0,342.1 419.0,337.7 420.0,336.7 421.0,336.9 422.0,340.5 423.0,338.7 424.0,338.0 425.0,340.6 426.0,337.3 427.0,337.3 428.0,342.9 429.0,340.0 430.0,341.9 431.0,336.3 432.0,338.3 433.0,337.6 434.0,342.1 435.0,340.6 436.0,342.4 437.0,338.0 438.0,340.0 439.0,340.2 440.0,338.9 441.0,343.0 442.0,334.6 443.0,336.9 444.0,341.6 445.0,336.6 446.0,342.9 447.0,342.8 448.0,336.3 449.0,340.8 450.0,338.0 451.0,336.9 452.0,339.3 453.0,342.1 454.0,339.6 455.0,342.4 456.0,338.2 457.0,340.3 458.0,341.4 459.0,341.3 460.0,335.9 461.0,335.9 462.0,341.6 463.0,336.6 464.0,341.4 465.0,335.9 466.0,335.6 467.0,340.3 468.0,338.2 469.0,336.6 470.0,337.3 471.0,337.7 472.0,335.1 473.0,340.1 474.0,336.0 475.0,333.5 476.0,334.6 477.0,333.5 478.0,332.0 479.0,332.6 480.0,338.3 481.0,331.5 482.0,330.7 483.0,335.0 484.0,331.3 485.0,333.0 486.0,327.5 487.0,329.2 488.0,330.6 489.0,331.8 490.0,327.2 491.0,329.7 492.0,324.6 493.0,325.2 494.0,323.1 495.0,323.4 496.0,323.4 497.0,325.0 498.0,323.5 499.0,311.3 499.8,268.0 500.0,241.6 500.2,268.0 501.0,274.5 502.0,283.2 503.0,287.8 504.0,288.8 505.0,287.4 506.0,279.9 507.0,272.7 508.0,273.8 509.0,266.5 510.0,258.7 511.0,257.3 512.0,250.5 513.0,245.1 514.0,243.7 515.0,236.3 516.0,235.8 517.0,228.8 518.0,227.7 519.0,230.3 520.0,230.1 521.0,232.1 522.0,236.7 523.0,236.0 524.0,236.0 525.0,239.9 526.0,228.6 527.0,224.9 528.0,224.4 529.0,217.3 530.0,216.8 531.0,211.6 532.0,209.1 533.0,209.6 534.0,210.7 535.0,209.3 536.0,211.2 537.0,214.5 538.0,219.2 539.0,219.8 540.0,220.0 541.0,223.7 542.0,222.0 543.0,220.3 544.0,225.8 545.0,225.3 546.0,221.5 547.0,218.2 548.0,222.7 549.0,221.2 550.0,215.4 551.0,217.5 552.0,223.3 553.0,226.5 554.0,224.6 555.0,230.6 556.0,229.4 557.0,228.7 558.0,234.5 559.0,235.2 560.0,230.8 561.0,233.9 562.0,238.1 563.0,239.2 564.0,240.0 565.0,241.5 566.0,238.1 567.0,240.7 568.0,243.9 569.0,239.6 570.0,242.6 571.0,247.9 572.0,246.7 573.0,249.9 574.0,250.4 575.0,251.3 576.0,251.9 577.0,246.7 578.0,251.6 579.0,251.4 580.0,250.6 581.0,250.3 582.0,249.2 583.0,253.5 584.0,255.6 585.0,252.9 586.0,255.7 587.0,253.2 588.0,255.8 589.0,253.0 590.0,253.5 591.0,251.5 592.0,257.0 593.0,256.6 594.0,252.4 595.0,250.3 596.0,253.3 597.0,255.0 598.0,253.6 599.0,254.0 600.0,256.3 601.0,251.5 602.0,255.4 603.0,256.8 604.0,255.9 605.0,251.1 606.0,253.2 607.0,259.3 608.0,254.6 609.0,253.2 610.0,255.9 611.0,258.7 612.0,259.4 613.0,255.9 614.0,257.3 615.0,260.6 616.0,259.9 617.0,262.8 618.0,265.8 619.0,266.8 620.0,270.4 621.0,270.8 622.0,273.0 623.0,275.0 624.0,273.7 625.0,273.6 626.0,278.4 627.0,278.8 628.0,276.3 629.0,279.0 630.0,282.1 631.0,281.3 632.0,287.0 633.0,285.1 634.0,286.5 635.0,287.9 636.0,290.3 637.0,293.5 638.0,291.0 639.0,292.8 640.0,297.6 641.0,296.0 642.0,298.2 643.0,297.3 644.0,299.8 645.0,300.8 646.0,302.6 647.0,304.4 648.0,307.4 649.0,306.6 650.0,304.9 651.0,306.5 652.0,306.7 653.0,308.6 654.0,313.1 655.0,313.9 656.0,311.3 657.0,310.5 658.0,318.0 659.0,316.4 660.0,317.2 661.0,320.0 662.0,314.5 663.0,316.1 664.0,319.8 665.0,321.6 666.0,318.4 667.0,322.7 668.0,323.6 669.0,317.0 670.0,320.9 671.0,325.6 672.0,325.5 673.0,324.6 674.0,320.9 675.0,326.4 676.0,321.8 677.0,326.7 678.0,324.6 679.0,325.5 680.0,328.2 681.0,323.5 682.0,327.5 683.0,328.4 684.0,328.8 685.0,326.0 686.0,328.1 687.0,327.7 688.0,326.9 689.0,331.0 690.0,331.6" fill="none" stroke="#202070" stroke-width="1" opacity="0.85"/>
<polyline points="398.0,336.2 399.0,337.0 400.0,340.5 401.0,339.1 402.0,336.1 403.0,338.5 404.0,339.7 405.0,338.9 406.0,341.8 407.0,338.5 408.0,339.5 409.0,341.2 410.0,339.4 411.0,337.9 412.0,336.4 413.0,341.7 414.0,342.0 415.0,336.7 416.0,339.9 417.0,340.6 418.0,340.2 419.0,342.1 420.0,339.6 421.0,337.1 422.0,342.8 423.0,340.0 424.0,337.2 425.0,342.6 426.0,336.7 427.0,341.3 428.0,342.0 429.0,342.5 430.0,336.5 431.0,336.6 432.0,337.0 433.0,336.7 434.0,338.7 435.0,336.0 436.0,342.6 437.0,341.0 438.0,342.1 439.0,338.3 440.0,339.4 441.0,340.8 442.0,341.8 443.0,340.8 444.0,337.4 445.0,338.7 446.0,339.9 447.0,340.0 448.0,338.2 449.0,337.2 450.0,341.6 451.0,342.5 452.0,342.5 453.0,337.3 454.0,338.6 455.0,337.5 456.0,334.0 457.0,339.7 458.0,339.4 459.0,341.7 460.0,339.6 461.0,336.5 462.0,334.6 463.0,340.1 464.0,339.4 465.0,337.5 466.0,337.5 467.0,336.6 468.0,338.6 469.0,334.2 470.0,335.9 471.0,335.6 472.0,333.9 473.0,333.9 474.0,337.6 475.0,336.6 476.0,336.4 477.0,334.7 478.0,337.3 479.0,334.3 480.0,334.1 481.0,332.8 482.0,330.1 483.0,332.4 484.0,332.1 485.0,327.5 486.0,330.9 487.0,331.6 488.0,331.6 489.0,329.2 490.0,325.3 491.0,326.1 492.0,324.7 493.0,323.2 494.0,325.8 495.0,321.7 496.0,322.9 497.0,319.0 498.0,317.2 499.0,306.1 499.8,262.0 500.0,235.7 500.2,262.0 501.0,272.2 502.0,278.4 503.0,288.3 504.0,283.7 505.0,281.5 506.0,278.6 507.0,271.1 508.0,264.3 509.0,264.3 510.0,257.1 511.0,254.6 512.0,249.4 513.0,240.1 514.0,236.4 515.0,231.5 516.0,226.5 517.0,218.8 518.0,221.4 519.0,222.1 520.0,223.6 521.0,228.8 522.0,229.2 523.0,230.1 524.0,230.8 525.0,233.0 526.0,222.9 527.0,217.7 528.0,213.7 529.0,211.8 530.0,209.7 531.0,203.9 532.0,202.7 533.0,196.9 534.0,198.9 535.0,205.2 536.0,207.4 537.0,207.2 538.0,212.3 539.0,210.4 540.0,212.3 541.0,216.6 542.0,215.2 543.0,214.7 544.0,220.3 545.0,213.4 546.0,211.1 547.0,214.5 548.0,210.2 549.0,211.4 550.0,211.4 551.0,212.8 552.0,214.3 553.0,220.0 554.0,218.2 555.0,217.0 556.0,223.8 557.0,221.9 558.0,226.8 559.0,227.7 560.0,230.6 561.0,232.1 562.0,232.4 563.0,229.4 564.0,228.7 565.0,230.1 566.0,230.9 567.0,233.3 568.0,234.6 569.0,235.7 570.0,239.0 571.0,237.5 572.0,239.0 573.0,239.1 574.0,240.7 575.0,241.1 576.0,242.3 577.0,246.6 578.0,244.2 579.0,246.5 580.0,244.3 581.0,244.0 582.0,245.9 583.0,248.9 584.0,248.3 585.0,249.3 586.0,251.6 587.0,248.5 588.0,254.4 589.0,250.9 590.0,246.9 591.0,249.7 592.0,248.9 593.0,251.5 594.0,247.0 595.0,248.8 596.0,251.3 597.0,252.0 598.0,245.8 599.0,246.4 600.0,248.7 601.0,247.5 602.0,246.1 603.0,247.8 604.0,249.2 605.0,246.6 606.0,249.0 607.0,251.3 608.0,252.2 609.0,253.5 610.0,250.5 611.0,248.9 612.0,253.3 613.0,251.3 614.0,253.1 615.0,254.8 616.0,256.5 617.0,261.8 618.0,262.1 619.0,264.9 620.0,265.6 621.0,261.7 622.0,269.3 623.0,267.1 624.0,272.1 625.0,272.3 626.0,275.6 627.0,272.3 628.0,276.1 629.0,275.7 630.0,277.0 631.0,276.8 632.0,278.4 633.0,281.2 634.0,280.6 635.0,281.7 636.0,287.7 637.0,288.6 638.0,286.5 639.0,293.2 640.0,287.9 641.0,295.1 642.0,294.7 643.0,299.9 644.0,300.1 645.0,299.2 646.0,299.7 647.0,304.0 648.0,306.1 649.0,307.7 650.0,305.2 651.0,306.5 652.0,309.9 653.0,308.1 654.0,306.7 655.0,311.7 656.0,308.4 657.0,311.6 658.0,315.0 659.0,315.3 660.0,311.8 661.0,318.5 662.0,313.2 663.0,316.0 664.0,317.9 665.0,319.2 666.0,321.3 667.0,319.2 668.0,321.3 669.0,321.5 670.0,318.5 671.0,319.5 672.0,320.9 673.0,322.9 674.0,325.8 675.0,322.1 676.0,325.9 677.0,322.7 678.0,324.3 679.0,324.1 680.0,321.6 681.0,326.5 682.0,322.3 683.0,328.8 684.0,326.4 685.0,324.7 686.0,330.1 687.0,328.1 688.0,324.8 689.0,326.3 690.0,325.4" fill="none" stroke="#2a7a3a" stroke-width="1" opacity="0.85"/>
<polyline points="398.0,337.7 399.0,340.8 400.0,335.0 401.0,333.7 402.0,336.0 403.0,341.7 404.0,337.5 405.0,339.7 406.0,335.5 407.0,339.1 408.0,335.4 409.0,341.5 410.0,339.2 411.0,335.2 412.0,338.2 413.0,336.2 414.0,335.3 415.0,339.5 416.0,337.6 417.0,339.8 418.0,339.4 419.0,340.6 420.0,339.0 421.0,336.5 422.0,340.3 423.0,337.3 424.0,342.5 425.0,336.0 426.0,335.0 427.0,339.3 428.0,341.7 429.0,336.3 430.0,337.3 431.0,339.7 432.0,337.5 433.0,339.2 434.0,336.2 435.0,340.6 436.0,336.9 437.0,335.6 438.0,336.8 439.0,339.2 440.0,340.7 441.0,336.8 442.0,335.4 443.0,338.4 444.0,339.0 445.0,338.3 446.0,337.0 447.0,338.7 448.0,335.4 449.0,341.4 450.0,335.5 451.0,339.4 452.0,335.5 453.0,340.2 454.0,338.6 455.0,336.6 456.0,339.1 457.0,336.8 458.0,335.9 459.0,336.5 460.0,338.7 461.0,336.6 462.0,337.6 463.0,334.6 464.0,340.3 465.0,339.2 466.0,340.1 467.0,338.1 468.0,334.7 469.0,339.3 470.0,334.7 471.0,333.5 472.0,331.2 473.0,331.9 474.0,334.0 475.0,332.2 476.0,335.9 477.0,333.8 478.0,330.9 479.0,330.2 480.0,334.5 481.0,331.8 482.0,323.1 483.0,328.6 484.0,330.3 485.0,326.1 486.0,328.4 487.0,323.2 488.0,321.7 489.0,322.6 490.0,323.6 491.0,319.5 492.0,323.5 493.0,321.6 494.0,320.8 495.0,316.0 496.0,317.6 497.0,311.8 498.0,312.1 499.0,292.7 499.8,239.4 500.0,205.4 500.2,239.4 501.0,248.5 502.0,266.0 503.0,266.9 504.0,268.4 505.0,264.2 506.0,255.6 507.0,253.4 508.0,244.7 509.0,239.4 510.0,233.7 511.0,225.6 512.0,223.6 513.0,216.0 514.0,212.7 515.0,199.7 516.0,192.2 517.0,187.3 518.0,192.8 519.0,186.5 520.0,192.8 521.0,194.9 522.0,196.0 523.0,202.0 524.0,195.9 525.0,195.2 526.0,192.6 527.0,186.9 528.0,179.3 529.0,173.0 530.0,167.8 531.0,164.2 532.0,161.6 533.0,159.2 534.0,162.0 535.0,162.8 536.0,166.2 537.0,172.8 538.0,170.0 539.0,176.9 540.0,172.4 541.0,179.1 542.0,176.1 543.0,179.0 544.0,182.1 545.0,178.8 546.0,178.0 547.0,177.7 548.0,171.8 549.0,176.3 550.0,174.1 551.0,173.1 552.0,176.3 553.0,183.9 554.0,185.3 555.0,187.8 556.0,192.8 557.0,189.9 558.0,189.1 559.0,197.0 560.0,197.0 561.0,198.8 562.0,200.4 563.0,202.0 564.0,198.1 565.0,200.5 566.0,203.4 567.0,204.5 568.0,200.6 569.0,204.2 570.0,206.5 571.0,208.9 572.0,211.8 573.0,211.2 574.0,210.0 575.0,214.1 576.0,214.5 577.0,216.5 578.0,216.1 579.0,216.0 580.0,219.5 581.0,222.8 582.0,218.0 583.0,219.0 584.0,221.6 585.0,220.1 586.0,222.3 587.0,220.2 588.0,221.8 589.0,223.7 590.0,223.8 591.0,226.3 592.0,220.8 593.0,220.6 594.0,222.4 595.0,224.2 596.0,223.2 597.0,219.3 598.0,220.0 599.0,219.8 600.0,221.2 601.0,225.9 602.0,220.0 603.0,219.9 604.0,220.1 605.0,221.4 606.0,226.4 607.0,220.4 608.0,222.0 609.0,220.8 610.0,223.9 611.0,228.9 612.0,225.2 613.0,230.8 614.0,232.6 615.0,227.7 616.0,234.8 617.0,234.0 618.0,236.2 619.0,237.3 620.0,238.4 621.0,241.6 622.0,242.1 623.0,244.3 624.0,250.3 625.0,250.6 626.0,254.8 627.0,253.9 628.0,258.5 629.0,259.3 630.0,262.1 631.0,263.3 632.0,259.9 633.0,267.2 634.0,261.2 635.0,268.4 636.0,268.2 637.0,271.5 638.0,272.8 639.0,273.8 640.0,279.6 641.0,277.3 642.0,280.1 643.0,286.8 644.0,282.9 645.0,289.4 646.0,285.9 647.0,289.4 648.0,289.5 649.0,291.5 650.0,297.0 651.0,298.7 652.0,295.6 653.0,301.0 654.0,301.7 655.0,302.6 656.0,303.0 657.0,307.3 658.0,301.1 659.0,304.6 660.0,308.2 661.0,308.2 662.0,311.5 663.0,308.9 664.0,313.1 665.0,317.7 666.0,315.3 667.0,313.1 668.0,313.2 669.0,312.4 670.0,316.2 671.0,312.9 672.0,315.7 673.0,314.2 674.0,314.3 675.0,318.9 676.0,320.9 677.0,319.1 678.0,321.5 679.0,321.5 680.0,321.5 681.0,323.0 682.0,315.6 683.0,322.6 684.0,324.0 685.0,324.2 686.0,322.3 687.0,325.1 688.0,325.2 689.0,322.8 690.0,323.2" fill="none" stroke="#7a2a7a" stroke-width="1" opacity="0.85"/>
<polyline points="398.0,337.2 399.0,335.9 400.0,333.5 401.0,337.3 402.0,337.5 403.0,335.6 404.0,336.3 405.0,340.4 406.0,341.1 407.0,335.9 408.0,340.1 409.0,336.5 410.0,340.6 411.0,336.0 412.0,340.5 413.0,338.0 414.0,340.4 415.0,341.3 416.0,340.9 417.0,339.9 418.0,341.6 419.0,337.8 420.0,335.5 421.0,339.6 422.0,338.2 423.0,336.4 424.0,336.0 425.0,341.4 426.0,335.6 427.0,339.9 428.0,337.3 429.0,336.6 430.0,335.7 431.0,336.1 432.0,339.3 433.0,337.3 434.0,337.6 435.0,339.8 436.0,339.9 437.0,334.5 438.0,342.0 439.0,336.0 440.0,340.7 441.0,335.8 442.0,338.0 443.0,335.9 444.0,340.5 445.0,341.1 446.0,341.0 447.0,338.1 448.0,340.2 449.0,335.9 450.0,341.1 451.0,337.0 452.0,341.4 453.0,341.9 454.0,338.9 455.0,340.0 456.0,341.3 457.0,341.6 458.0,339.8 459.0,341.4 460.0,335.1 461.0,339.1 462.0,339.2 463.0,341.0 464.0,340.1 465.0,334.6 466.0,340.9 467.0,340.1 468.0,336.4 469.0,334.1 470.0,337.9 471.0,336.5 472.0,333.8 473.0,336.9 474.0,335.5 475.0,333.8 476.0,331.2 477.0,334.7 478.0,335.1 479.0,334.0 480.0,332.8 481.0,333.5 482.0,331.1 483.0,330.0 484.0,329.3 485.0,326.6 486.0,324.7 487.0,330.8 488.0,325.2 489.0,324.7 490.0,324.4 491.0,326.1 492.0,325.6 493.0,322.0 494.0,317.8 495.0,320.4 496.0,319.8 497.0,316.4 498.0,317.8 499.0,300.4 499.8,250.7 500.0,217.9 500.2,250.7 501.0,263.0 502.0,267.7 503.0,277.1 504.0,277.8 505.0,269.8 506.0,266.2 507.0,256.1 508.0,254.4 509.0,248.3 510.0,241.7 511.0,236.2 512.0,234.9 513.0,226.3 514.0,222.5 515.0,214.5 516.0,209.2 517.0,200.2 518.0,200.9 519.0,201.5 520.0,207.4 521.0,211.7 522.0,209.0 523.0,214.8 524.0,213.7 525.0,214.7 526.0,205.1 527.0,201.7 528.0,196.8 529.0,186.2 530.0,187.5 531.0,177.1 532.0,172.3 533.0,176.7 534.0,172.5 535.0,183.4 536.0,182.0 537.0,185.8 538.0,191.3 539.0,190.7 540.0,193.1 541.0,190.7 542.0,194.1 543.0,198.1 544.0,195.1 545.0,198.1 546.0,197.2 547.0,191.9 548.0,189.8 549.0,191.0 550.0,191.2 551.0,193.2 552.0,191.3 553.0,196.7 554.0,197.5 555.0,200.1 556.0,202.8 557.0,204.6 558.0,205.7 559.0,206.9 560.0,206.1 561.0,208.6 562.0,214.0 563.0,214.6 564.0,213.7 565.0,215.9 566.0,214.8 567.0,218.8 568.0,217.2 569.0,221.3 570.0,220.5 571.0,222.3 572.0,225.5 573.0,222.0 574.0,227.6 575.0,223.7 576.0,224.3 577.0,228.3 578.0,228.0 579.0,227.8 580.0,229.5 581.0,229.3 582.0,231.2 583.0,234.0 584.0,235.8 585.0,234.8 586.0,236.5 587.0,234.9 588.0,236.5 589.0,233.1 590.0,236.0 591.0,236.3 592.0,232.6 593.0,238.9 594.0,236.0 595.0,230.7 596.0,232.1 597.0,235.9 598.0,235.6 599.0,233.4 600.0,236.5 601.0,235.2 602.0,232.8 603.0,236.7 604.0,232.9 605.0,231.7 606.0,231.8 607.0,234.4 608.0,236.9 609.0,235.9 610.0,236.8 611.0,242.5 612.0,234.7 613.0,236.4 614.0,241.7 615.0,242.4 616.0,243.5 617.0,241.6 618.0,246.1 619.0,250.6 620.0,249.9 621.0,249.8 622.0,251.2 623.0,253.6 624.0,257.8 625.0,259.8 626.0,264.5 627.0,264.5 628.0,266.4 629.0,268.4 630.0,265.5 631.0,270.1 632.0,267.7 633.0,274.0 634.0,272.5 635.0,276.7 636.0,277.7 637.0,278.2 638.0,283.3 639.0,286.7 640.0,284.8 641.0,284.6 642.0,284.6 643.0,287.1 644.0,292.0 645.0,292.5 646.0,292.8 647.0,292.8 648.0,298.6 649.0,297.7 650.0,300.2 651.0,304.0 652.0,303.7 653.0,301.1 654.0,306.9 655.0,301.9 656.0,308.4 657.0,308.2 658.0,309.1 659.0,311.0 660.0,309.6 661.0,313.6 662.0,312.1 663.0,314.5 664.0,316.5 665.0,314.2 666.0,312.3 667.0,316.6 668.0,313.4 669.0,322.3 670.0,315.5 671.0,319.8 672.0,321.2 673.0,316.8 674.0,317.7 675.0,318.0 676.0,318.0 677.0,319.8 678.0,324.0 679.0,319.8 680.0,320.9 681.0,324.5 682.0,322.5 683.0,321.5 684.0,320.5 685.0,322.3 686.0,321.2 687.0,327.9 688.0,326.4 689.0,324.2 690.0,325.5" fill="none" stroke="#e040e0" stroke-width="1" opacity="0.85"/>
<polyline points="398.0,340.5 399.0,338.5 400.0,336.0 401.0,338.4 402.0,332.1 403.0,336.7 404.0,340.2 405.0,340.7 406.0,341.1 407.0,335.1 408.0,337.7 409.0,337.5 410.0,339.6 411.0,335.2 412.0,337.9 413.0,336.3 414.0,336.1 415.0,336.8 416.0,335.7 417.0,339.7 418.0,335.3 419.0,338.6 420.0,340.0 421.0,336.4 422.0,338.3 423.0,339.6 424.0,338.4 425.0,338.4 426.0,335.2 427.0,333.9 428.0,339.3 429.0,336.5 430.0,343.3 431.0,339.7 432.0,339.7 433.0,335.1 434.0,338.9 435.0,337.1 436.0,340.0 437.0,337.7 438.0,335.5 439.0,336.6 440.0,332.3 441.0,341.1 442.0,336.6 443.0,339.4 444.0,342.9 445.0,336.2 446.0,336.6 447.0,336.1 448.0,336.7 449.0,340.8 450.0,335.1 451.0,341.2 452.0,337.7 453.0,339.7 454.0,337.4 455.0,340.7 456.0,335.0 457.0,338.6 458.0,334.6 459.0,333.6 460.0,338.6 461.0,338.8 462.0,335.3 463.0,337.6 464.0,333.4 465.0,334.6 466.0,334.0 467.0,334.5 468.0,334.5 469.0,334.6 470.0,333.9 471.0,335.3 472.0,335.1 473.0,333.6 474.0,331.5 475.0,335.3 476.0,333.1 477.0,331.7 478.0,332.4 479.0,333.2 480.0,326.8 481.0,332.0 482.0,329.7 483.0,323.7 484.0,323.1 485.0,322.3 486.0,322.5 487.0,323.9 488.0,321.9 489.0,320.1 490.0,319.3 491.0,322.8 492.0,315.2 493.0,319.1 494.0,315.4 495.0,313.1 496.0,310.3 497.0,310.4 498.0,311.9 499.0,289.7 499.8,234.2 500.0,191.3 500.2,234.2 501.0,244.2 502.0,253.0 503.0,260.7 504.0,261.5 505.0,254.4 506.0,246.8 507.0,243.9 508.0,231.8 509.0,225.8 510.0,223.9 511.0,211.6 512.0,211.0 513.0,199.8 514.0,194.9 515.0,183.0 516.0,175.8 517.0,172.7 518.0,171.5 519.0,173.3 520.0,179.6 521.0,179.8 522.0,180.9 523.0,183.3 524.0,185.9 525.0,185.6 526.0,178.6 527.0,173.3 528.0,159.3 529.0,153.0 530.0,151.9 531.0,146.5 532.0,137.4 533.0,139.7 534.0,146.5 535.0,145.7 536.0,152.8 537.0,154.3 538.0,156.6 539.0,159.3 540.0,157.0 541.0,163.4 542.0,165.8 543.0,167.9 544.0,165.3 545.0,166.6 546.0,162.5 547.0,160.6 548.0,161.5 549.0,154.3 550.0,156.4 551.0,159.9 552.0,159.4 553.0,165.0 554.0,168.0 555.0,171.5 556.0,175.9 557.0,176.0 558.0,180.2 559.0,178.3 560.0,185.6 561.0,182.5 562.0,186.3 563.0,187.4 564.0,185.0 565.0,186.7 566.0,187.4 567.0,187.6 568.0,191.7 569.0,194.6 570.0,193.1 571.0,197.1 572.0,200.7 573.0,197.0 574.0,200.1 575.0,198.5 576.0,199.6 577.0,202.9 578.0,203.9 579.0,204.5 580.0,204.8 581.0,209.1 582.0,205.3 583.0,210.9 584.0,209.5 585.0,213.3 586.0,212.6 587.0,207.6 588.0,208.2 589.0,212.7 590.0,213.2 591.0,211.8 592.0,212.0 593.0,209.8 594.0,212.6 595.0,208.0 596.0,209.8 597.0,212.4 598.0,209.6 599.0,212.6 600.0,211.8 601.0,211.2 602.0,210.6 603.0,213.5 604.0,210.9 605.0,209.3 606.0,212.6 607.0,213.4 608.0,208.4 609.0,212.8 610.0,215.9 611.0,214.9 612.0,216.3 613.0,218.3 614.0,221.3 615.0,217.5 616.0,224.5 617.0,220.7 618.0,224.0 619.0,225.3 620.0,233.1 621.0,230.6 622.0,236.5 623.0,235.3 624.0,241.5 625.0,236.6 626.0,245.0 627.0,245.1 628.0,246.7 629.0,248.3 630.0,253.0 631.0,252.6 632.0,254.8 633.0,258.7 634.0,260.4 635.0,259.4 636.0,264.1 637.0,263.1 638.0,266.8 639.0,273.9 640.0,272.6 641.0,274.1 642.0,271.7 643.0,274.7 644.0,278.3 645.0,283.8 646.0,289.3 647.0,282.4 648.0,287.4 649.0,288.3 650.0,291.6 651.0,293.1 652.0,296.4 653.0,297.3 654.0,292.4 655.0,296.1 656.0,295.4 657.0,298.0 658.0,302.7 659.0,302.8 660.0,303.8 661.0,302.9 662.0,302.1 663.0,304.2 664.0,308.9 665.0,309.5 666.0,308.0 667.0,307.6 668.0,310.9 669.0,312.9 670.0,314.1 671.0,312.9 672.0,314.5 673.0,315.0 674.0,311.9 675.0,312.4 676.0,314.4 677.0,316.3 678.0,314.4 679.0,317.7 680.0,314.7 681.0,318.1 682.0,315.7 683.0,316.2 684.0,316.7 685.0,319.0 686.0,320.6 687.0,318.9 688.0,323.2 689.0,318.3 690.0,321.3" fill="none" stroke="#50c050" stroke-width="1" opacity="0.85"/>
<polyline points="398.0,336.5 399.0,337.2 400.0,337.6 401.0,334.4 402.0,334.3 403.0,335.9 404.0,337.4 405.0,340.4 406.0,338.0 407.0,337.7 408.0,343.1 409.0,336.7 410.0,338.2 411.0,339.3 412.0,339.8 413.0,334.4 414.0,336.6 415.0,337.8 416.0,338.5 417.0,340.4 418.0,335.6 419.0,339.4 420.0,338.7 421.0,339.4 422.0,337.9 423.0,337.9 424.0,336.2 425.0,335.9 426.0,339.6 427.0,338.4 428.0,337.4 429.0,340.8 430.0,337.1 431.0,337.8 432.0,334.7 433.0,339.7 434.0,339.4 435.0,342.6 436.0,335.9 437.0,337.6 438.0,337.3 439.0,339.6 440.0,334.3 441.0,336.5 442.0,340.6 443.0,335.3 444.0,335.0 445.0,339.5 446.0,336.8 447.0,334.1 448.0,332.2 449.0,334.4 450.0,337.6 451.0,339.4 452.0,337.7 453.0,331.5 454.0,339.8 455.0,336.4 456.0,340.1 457.0,334.5 458.0,332.5 459.0,337.6 460.0,339.8 461.0,337.3 462.0,337.5 463.0,333.7 464.0,336.7 465.0,335.5 466.0,334.6 467.0,335.6 468.0,338.7 469.0,335.0 470.0,336.9 471.0,334.6 472.0,330.6 473.0,334.9 474.0,329.8 475.0,333.9 476.0,328.0 477.0,330.4 478.0,328.6 479.0,330.7 480.0,331.6 481.0,329.7 482.0,324.9 483.0,322.6 484.0,327.2 485.0,324.3 486.0,324.6 487.0,321.1 488.0,323.5 489.0,317.0 490.0,318.9 491.0,321.0 492.0,316.0 493.0,318.4 494.0,315.5 495.0,311.2 496.0,313.5 497.0,307.2 498.0,304.8 499.0,290.7 499.8,222.9 500.0,180.9 500.2,222.9 501.0,234.2 502.0,246.4 503.0,254.2 504.0,256.9 505.0,251.6 506.0,240.2 507.0,233.9 508.0,230.4 509.0,220.3 510.0,209.9 511.0,208.6 512.0,201.7 513.0,191.7 514.0,182.9 515.0,176.5 516.0,164.2 517.0,155.5 518.0,158.9 519.0,160.4 520.0,162.3 521.0,165.7 522.0,170.5 523.0,174.8 524.0,176.7 525.0,174.8 526.0,167.5 527.0,157.6 528.0,149.2 529.0,145.7 530.0,137.6 531.0,134.6 532.0,128.3 533.0,127.7 534.0,130.8 535.0,133.1 536.0,134.9 537.0,141.0 538.0,140.8 539.0,144.6 540.0,148.3 541.0,149.2 542.0,147.4 543.0,152.2 544.0,155.5 545.0,154.7 546.0,151.0 547.0,150.1 548.0,143.4 549.0,142.9 550.0,140.1 551.0,147.1 552.0,145.9 553.0,151.4 554.0,155.0 555.0,161.6 556.0,159.7 557.0,160.9 558.0,163.2 559.0,170.5 560.0,170.7 561.0,173.5 562.0,172.4 563.0,174.9 564.0,175.4 565.0,176.3 566.0,181.1 567.0,185.6 568.0,184.3 569.0,182.5 570.0,181.7 571.0,188.9 572.0,190.7 573.0,191.8 574.0,190.1 575.0,191.4 576.0,189.8 577.0,189.7 578.0,194.4 579.0,196.6 580.0,193.6 581.0,200.3 582.0,199.5 583.0,196.2 584.0,198.5 585.0,204.4 586.0,204.8 587.0,203.5 588.0,199.9 589.0,200.6 590.0,200.4 591.0,206.5 592.0,201.1 593.0,200.5 594.0,195.0 595.0,198.1 596.0,200.5 597.0,203.8 598.0,204.2 599.0,200.6 600.0,207.2 601.0,201.0 602.0,199.2 603.0,201.2 604.0,200.5 605.0,202.8 606.0,202.5 607.0,202.2 608.0,201.5 609.0,204.0 610.0,202.6 611.0,205.5 612.0,204.0 613.0,205.0 614.0,211.7 615.0,212.3 616.0,213.5 617.0,218.0 618.0,215.0 619.0,221.4 620.0,222.0 621.0,227.8 622.0,230.2 623.0,232.9 624.0,234.1 625.0,232.0 626.0,239.9 627.0,236.2 628.0,237.1 629.0,243.6 630.0,247.3 631.0,244.7 632.0,246.0 633.0,252.9 634.0,251.1 635.0,257.4 636.0,257.1 637.0,263.4 638.0,264.4 639.0,261.2 640.0,268.1 641.0,271.5 642.0,271.0 643.0,275.4 644.0,275.6 645.0,277.6 646.0,280.2 647.0,278.4 648.0,284.4 649.0,286.8 650.0,285.4 651.0,291.2 652.0,289.7 653.0,291.1 654.0,293.1 655.0,296.6 656.0,292.8 657.0,298.2 658.0,297.5 659.0,298.0 660.0,302.8 661.0,305.4 662.0,304.5 663.0,303.8 664.0,307.9 665.0,307.2 666.0,308.3 667.0,309.0 668.0,306.1 669.0,306.8 670.0,311.7 671.0,311.8 672.0,313.9 673.0,312.5 674.0,315.2 675.0,310.4 676.0,316.1 677.0,312.1 678.0,314.6 679.0,318.1 680.0,318.3 681.0,316.6 682.0,319.1 683.0,319.6 684.0,319.8 685.0,320.3 686.0,315.6 687.0,321.9 688.0,320.5 689.0,321.7 690.0,318.6" fill="none" stroke="#e03a3a" stroke-width="1" opacity="0.85"/>
<line x1="519.4" y1="137.3" x2="503" y2="170" stroke="#000" stroke-width="1"/><path d="M501.2,174 L500.6,167.5 L505.4,169.7 Z" fill="#000"/>
<line x1="516" y1="118.7" x2="663" y2="118.7" stroke="#111" stroke-width="1.2"/><path d="M512.5,118.7 L518,116.4 L518,121 Z" fill="#111"/><path d="M666.5,118.7 L661,116.4 L661,121 Z" fill="#111"/>
</g>
<text x="393" y="128.8" font-size="4.4" text-anchor="end" fill="#222" font-family="Liberation Sans">140</text>
<text x="393" y="159.9" font-size="4.4" text-anchor="end" fill="#222" font-family="Liberation Sans">120</text>
<text x="393" y="191.1" font-size="4.4" text-anchor="end" fill="#222" font-family="Liberation Sans">100</text>
<text x="393" y="223.3" font-size="4.4" text-anchor="end" fill="#222" font-family="Liberation Sans">80</text>
<text x="393" y="254.5" font-size="4.4" text-anchor="end" fill="#222" font-family="Liberation Sans">60</text>
<text x="393" y="285.9" font-size="4.4" text-anchor="end" fill="#222" font-family="Liberation Sans">40</text>
<text x="393" y="317.3" font-size="4.4" text-anchor="end" fill="#222" font-family="Liberation Sans">20</text>
<text x="393" y="347.5" font-size="4.4" text-anchor="end" fill="#222" font-family="Liberation Sans">0</text>
<text x="410.0" y="353" font-size="4.4" text-anchor="middle" fill="#222" font-family="Liberation Sans">350</text>
<text x="479.0" y="353" font-size="4.4" text-anchor="middle" fill="#222" font-family="Liberation Sans">400</text>
<text x="547.0" y="353" font-size="4.4" text-anchor="middle" fill="#222" font-family="Liberation Sans">450</text>
<text x="615.6" y="353" font-size="4.4" text-anchor="middle" fill="#222" font-family="Liberation Sans">500</text>
<text x="684.0" y="353" font-size="4.4" text-anchor="middle" fill="#222" font-family="Liberation Sans">550</text>
<text x="582.6" y="353" font-size="4.4" text-anchor="middle" fill="#222" font-family="Liberation Sans">wavelength nm</text>
<text x="378.7" y="170.5" font-size="5.2" text-anchor="middle" fill="#111" font-family="Liberation Sans">L</text>
<text x="378.7" y="176.2" font-size="5.2" text-anchor="middle" fill="#111" font-family="Liberation Sans">u</text>
<text x="378.7" y="181.8" font-size="5.2" text-anchor="middle" fill="#111" font-family="Liberation Sans">m</text>
<text x="378.7" y="187.4" font-size="5.2" text-anchor="middle" fill="#111" font-family="Liberation Sans">i</text>
<text x="378.7" y="193.1" font-size="5.2" text-anchor="middle" fill="#111" font-family="Liberation Sans">n</text>
<text x="378.7" y="198.8" font-size="5.2" text-anchor="middle" fill="#111" font-family="Liberation Sans">e</text>
<text x="378.7" y="204.4" font-size="5.2" text-anchor="middle" fill="#111" font-family="Liberation Sans">s</text>
<text x="378.7" y="210.1" font-size="5.2" text-anchor="middle" fill="#111" font-family="Liberation Sans">c</text>
<text x="378.7" y="215.7" font-size="5.2" text-anchor="middle" fill="#111" font-family="Liberation Sans">e</text>
<text x="378.7" y="221.3" font-size="5.2" text-anchor="middle" fill="#111" font-family="Liberation Sans">n</text>
<text x="378.7" y="227.0" font-size="5.2" text-anchor="middle" fill="#111" font-family="Liberation Sans">c</text>
<text x="378.7" y="232.7" font-size="5.2" text-anchor="middle" fill="#111" font-family="Liberation Sans">e</text>
<text x="378.7" y="243.9" font-size="5.2" text-anchor="middle" fill="#111" font-family="Liberation Sans">I</text>
<text x="378.7" y="249.6" font-size="5.2" text-anchor="middle" fill="#111" font-family="Liberation Sans">n</text>
<text x="378.7" y="255.2" font-size="5.2" text-anchor="middle" fill="#111" font-family="Liberation Sans">t</text>
<text x="378.7" y="260.9" font-size="5.2" text-anchor="middle" fill="#111" font-family="Liberation Sans">e</text>
<text x="378.7" y="266.6" font-size="5.2" text-anchor="middle" fill="#111" font-family="Liberation Sans">n</text>
<text x="378.7" y="272.2" font-size="5.2" text-anchor="middle" fill="#111" font-family="Liberation Sans">s</text>
<text x="378.7" y="277.9" font-size="5.2" text-anchor="middle" fill="#111" font-family="Liberation Sans">i</text>
<text x="378.7" y="283.5" font-size="5.2" text-anchor="middle" fill="#111" font-family="Liberation Sans">t</text>
<text x="378.7" y="289.1" font-size="5.2" text-anchor="middle" fill="#111" font-family="Liberation Sans">y</text>
<text x="486.7" y="149.2" font-size="6.2" fill="#5050a8" font-family="Liberation Sans" font-weight="bold">413 nm</text>
<text x="482.8" y="154.4" font-size="6.2" fill="#a8a040" font-family="Liberation Sans" font-weight="bold">410 nm</text>
<text x="477.6" y="160.0" font-size="6.2" fill="#60b860" font-family="Liberation Sans" font-weight="bold">405 nm</text>
<text x="472.4" y="165.2" font-size="6.2" fill="#202078" font-family="Liberation Sans" font-weight="bold">400 nm</text>
<text x="468.5" y="170.0" font-size="6.2" fill="#e040e0" font-family="Liberation Sans" font-weight="bold">397 nm</text>
<text x="459.5" y="175.4" font-size="6.2" fill="#602060" font-family="Liberation Sans" font-weight="bold">390 nm</text>
<text x="455.0" y="180.4" font-size="6.2" fill="#50c050" font-family="Liberation Sans" font-weight="bold">387 nm</text>
<text x="451.0" y="186.2" font-size="6.2" fill="#d04040" font-family="Liberation Sans" font-weight="bold">385 nm</text>
<text x="477" y="133.8" font-size="6.2" fill="#111" font-family="Liberation Sans" font-weight="bold">415.2 nm N3 2PL</text>
<text x="590" y="126.5" font-size="6.3" text-anchor="middle" fill="#000" font-family="Liberation Sans">Phonon sidebands of N3 center</text>
</svg>
<div class="abs" style="left:0;top:400px;width:725px;text-align:center;font-size:14px;line-height:16px;color:#000">Sample of one 3.02ct VST Blue Fluorescent Diamond</div>
<div class="abs" style="left:373.5px;top:509px;white-space:nowrap;font-size:10px;line-height:12px;color:#3c0808;letter-spacing:0.26px;-webkit-text-stroke:0.2px #3c0808">Contributed by Thomas Hainshwang, DUG, FGA, GG, Experte SGG</div>
<svg class="abs" style="left:0;top:460px" width="160" height="80" viewBox="0 460 160 80">
<rect x="10" y="464" width="148" height="74" fill="#ffffff" opacity="0.6"/>
<text x="22" y="514.5" font-family="Liberation Serif" font-size="61" fill="#1c1c8c" stroke="#1c1c8c" stroke-width="0.8" textLength="108" lengthAdjust="spacingAndGlyphs">AGA</text>
<circle cx="127.1" cy="491.7" r="13.7" fill="none" stroke="#777" stroke-width="0.8"/>
<path d="M119,482.5 L134.5,482.5 L140.8,489.6 L126.7,502 L113.7,489.6 Z" fill="#d4bc36" stroke="#333" stroke-width="0.7"/>
<path d="M121.2,482.5 L132.2,482.5 L133.6,489.6 L126.7,500.5 L119.8,489.6 Z" fill="#e8cc20"/>
<path d="M113.7,489.6 L140.8,489.6 M121.2,482.5 L119.8,489.6 L126.7,500.5 L133.6,489.6 L132.2,482.5" fill="none" stroke="#333" stroke-width="0.6"/>
<path d="M127.1,477.8 L127.1,482.5 M127.1,502 L127.1,505.5 M137,489.6 L140.8,489.6" stroke="#222" stroke-width="0.9"/>
<line x1="12" y1="518.3" x2="150" y2="518.3" stroke="#111" stroke-width="1"/>
<text x="12.5" y="526.8" font-family="Liberation Serif" font-weight="bold" font-size="8.6" fill="#111" textLength="137.5" lengthAdjust="spacingAndGlyphs">Accredited Gemologists Association</text>
</svg>
</body></html>
